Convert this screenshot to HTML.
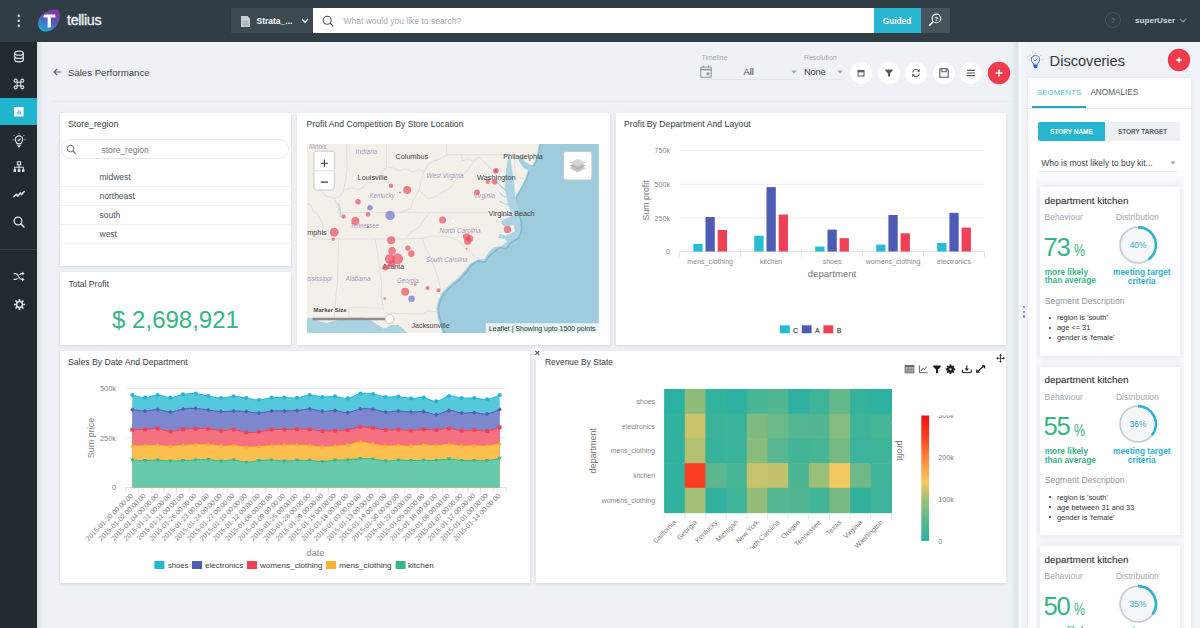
<!DOCTYPE html>
<html>
<head>
<meta charset="utf-8">
<title>Sales Performance</title>
<style>
*{box-sizing:border-box;margin:0;padding:0}
html,body{width:1200px;height:628px;overflow:hidden;background:#eef1f5;font-family:"Liberation Sans",sans-serif;color:#3a4247}
.abs{position:absolute}
#topbar{position:absolute;left:0;top:0;width:1200px;height:42px;background:#303d44}
#sidebar{position:absolute;left:0;top:42px;width:37px;height:586px;background:#212a2f}
#sidebar .act{position:absolute;left:0;top:55.5px;width:37px;height:27.5px;background:#20b4cf}
#sidebar .div{position:absolute;left:0;top:207px;width:37px;height:1px;background:#39444a}
#main{position:absolute;left:37px;top:42px;width:983px;height:586px;background:#eef1f5}
.card{position:absolute;background:#fff;box-shadow:0 1px 3px rgba(120,135,150,.22)}
.ctitle{position:absolute;left:8px;top:6px;font-size:8.6px;color:#333b40;white-space:nowrap;letter-spacing:.05px}
.t{position:absolute;white-space:nowrap}
.row{left:39.5px;font-size:8.5px;color:#4a5359}
.ln{left:0;width:231px;height:1px;background:#edf0f2}
#right{position:absolute;left:1020px;top:42px;width:180px;height:586px;background:#e8ecf1}
</style>
</head>
<body>
<div id="topbar">

  <svg class="abs" style="left:15px;top:11px" width="8" height="20" viewBox="0 0 8 20"><circle cx="3.8" cy="4.7" r="1.2" fill="#dde1e4"/><circle cx="3.8" cy="9.7" r="1.2" fill="#dde1e4"/><circle cx="3.8" cy="14.7" r="1.2" fill="#dde1e4"/></svg>
  <svg class="abs" style="left:36px;top:7px" width="26" height="27" viewBox="0 0 26 27">
    <defs><linearGradient id="lg" x1="0.75" y1="0" x2="0.2" y2="1"><stop offset="0" stop-color="#8a2fa6"/><stop offset=".45" stop-color="#5a55b8"/><stop offset="1" stop-color="#1fb3d6"/></linearGradient></defs>
    <path d="M20.5 2.6 C24.5 3.5 24.6 9.5 22.8 14.8 C20.8 20.6 14.6 25.2 8.8 24.4 C3.2 23.6 1.2 18.6 2.6 13.4 C4 8.2 8.8 4.6 13.6 3.2 C16.2 2.4 18.6 2.2 20.5 2.6Z" fill="url(#lg)"/>
    <path d="M7.6 9.2 Q7.6 7.6 9.2 7.6 H19.4 V10.6 H14.9 V19.4 Q14.9 20.4 13.9 20.4 H11.6 V10.6 H7.6Z" fill="#fff"/>
  </svg>
  <div class="t" style="left:67px;top:12.2px;font-size:14.2px;color:#f1f3f4;letter-spacing:-.3px;font-weight:400;-webkit-text-stroke:.35px #f1f3f4">tellius</div>
  <div class="abs" style="left:231px;top:8px;width:82px;height:25px;background:#3c4950"></div>
  <svg class="abs" style="left:241px;top:15.5px" width="9" height="11" viewBox="0 0 9 11"><path d="M0 0H6.5L9 2.5V11H0Z" fill="#c9ced2"/><path d="M1.6 5.2H7.4M1.6 7H7.4M1.6 8.8H7.4" stroke="#8d979d" stroke-width=".8"/></svg>
  <div class="t" style="left:256.5px;top:15.5px;font-size:8.5px;color:#fff;font-weight:bold">Strata_...</div>
  <svg class="abs" style="left:300.5px;top:18px" width="8" height="6" viewBox="0 0 8 6"><path d="M1 1L4 4.2L7 1" fill="none" stroke="#fff" stroke-width="1.3"/></svg>
  <div class="abs" style="left:312.5px;top:8px;width:561px;height:25px;background:#fff"></div>
  <svg class="abs" style="left:321px;top:14px" width="14" height="14" viewBox="0 0 14 14"><circle cx="6.2" cy="6.2" r="4" fill="none" stroke="#4d565b" stroke-width="1.1"/><path d="M9.1 9.1L12 12" stroke="#4d565b" stroke-width="1.2"/></svg>
  <div class="t" style="left:343.5px;top:15.5px;font-size:8.5px;color:#a4abb0">What would you like to search?</div>
  <div class="abs" style="left:873.5px;top:8px;width:47px;height:25px;background:#27b5d0"></div>
  <div class="t" style="left:873.5px;top:15.5px;width:47px;text-align:center;font-size:8.3px;color:#fff;font-weight:bold">Guided</div>
  <div class="abs" style="left:920.5px;top:8px;width:29px;height:25px;background:#47545b"></div>
  <svg class="abs" style="left:927px;top:12px" width="16" height="16" viewBox="0 0 16 16"><circle cx="9.4" cy="6.4" r="4.3" fill="none" stroke="#fff" stroke-width="1.1"/><path d="M6.3 9.5L2.2 13.6" stroke="#fff" stroke-width="1.5"/><text x="9.4" y="8.6" font-size="6" font-weight="bold" fill="#fff" text-anchor="middle" font-family="Liberation Sans">?</text></svg>
  <div class="abs" style="left:1105px;top:12px;width:16px;height:16px;border-radius:50%;border:1px solid #48555d"></div>
  <div class="t" style="left:1105px;top:16.5px;width:16px;text-align:center;font-size:6.5px;color:#7a878e">?</div>
  <div class="t" style="left:1135px;top:15.5px;font-size:8.1px;color:#d3d9dc;font-weight:bold">superUser</div>
  <svg class="abs" style="left:1178.5px;top:18px" width="8" height="6" viewBox="0 0 8 6"><path d="M1 1L4 4L7 1" fill="none" stroke="#87949b" stroke-width="1.1"/></svg>

</div>
<div id="sidebar">
  <div class="act"></div>
  <div class="div"></div>

  <!-- icons: coordinates relative to sidebar (top:42) -->
  <svg class="abs" style="left:13px;top:8px" width="12" height="13" viewBox="0 0 12 13"><g fill="none" stroke="#dbe0e3" stroke-width="1.25"><ellipse cx="6" cy="3.2" rx="4.3" ry="2"/><path d="M1.7 3.2V9.8C1.7 10.9 3.6 11.8 6 11.8S10.3 10.9 10.3 9.8V3.2"/><path d="M1.7 6.5C1.7 7.6 3.6 8.5 6 8.5S10.3 7.6 10.3 6.5"/></g></svg>
  <svg class="abs" style="left:13px;top:36px" width="12" height="12" viewBox="0 0 12 12"><g fill="none" stroke="#dbe0e3" stroke-width="1.2"><rect x="4.2" y="4.2" width="3.6" height="3.6"/><circle cx="2.7" cy="2.7" r="1.5"/><circle cx="9.3" cy="2.7" r="1.5"/><circle cx="2.7" cy="9.3" r="1.5"/><circle cx="9.3" cy="9.3" r="1.5"/></g></svg>
  <svg class="abs" style="left:14px;top:64.5px" width="10" height="10" viewBox="0 0 10 10"><rect x="0" y="0" width="9.6" height="9.6" rx=".6" fill="#fff"/><path d="M3.3 7.4V5.2M4.9 7.4V3.2M6.5 7.4V4.4" stroke="#20b4cf" stroke-width="1"/></svg>
  <svg class="abs" style="left:11px;top:90px" width="16" height="17" viewBox="0 0 16 17"><g fill="none" stroke="#dbe0e3" stroke-width="1.1"><path d="M5.9 11.6C5.9 10.4 4.3 9.6 4.3 7.6A3.7 3.7 0 0 1 11.7 7.6C11.7 9.6 10.1 10.4 10.1 11.6Z"/><path d="M6.2 13.2H9.8M6.8 14.6H9.2"/><path d="M6.6 7.6L7.7 8.7L9.6 6.6"/><path d="M8 1.2V2.4M2.8 3.2L3.7 4.1M13.2 3.2L12.3 4.1M1.4 7.8H2.6M14.6 7.8H13.4" stroke-width=".9"/></g></svg>
  <svg class="abs" style="left:13px;top:118.5px" width="12" height="12" viewBox="0 0 12 12"><g fill="none" stroke="#dbe0e3" stroke-width="1.1"><rect x="4.4" y=".8" width="3.2" height="3"/><path d="M6 3.8V6.2M1.8 8.4V6.2H10.2V8.4M6 6.2V8.4"/></g><g fill="#dbe0e3"><rect x=".5" y="8.2" width="2.6" height="2.8"/><rect x="4.7" y="8.2" width="2.6" height="2.8"/><rect x="8.9" y="8.2" width="2.6" height="2.8"/></g></svg>
  <svg class="abs" style="left:13px;top:147.5px" width="12" height="9" viewBox="0 0 12 9"><path d="M.8 6.8L3.4 4.2L4.8 6.2L7.4 2.8L8.6 4.6L11.2 1.6" fill="none" stroke="#dbe0e3" stroke-width="1.5" stroke-linejoin="round" stroke-linecap="round"/></svg>
  <svg class="abs" style="left:12px;top:173px" width="14" height="14" viewBox="0 0 14 14"><circle cx="6" cy="6" r="3.9" fill="none" stroke="#dbe0e3" stroke-width="1.3"/><path d="M8.9 8.9L12 12" stroke="#dbe0e3" stroke-width="1.5" stroke-linecap="round"/></svg>
  <svg class="abs" style="left:13px;top:229px" width="12" height="11" viewBox="0 0 12 11"><g fill="none" stroke="#dbe0e3" stroke-width="1.2"><path d="M.6 2.6H2.8C5.4 2.6 5.8 8.4 8.4 8.4H10"/><path d="M.6 8.4H2.8C3.6 8.4 4.2 7.8 4.6 7M6.6 4C7 3.2 7.6 2.6 8.4 2.6H10"/></g><path d="M9.2 .6L11.6 2.6L9.2 4.6ZM9.2 6.4L11.6 8.4L9.2 10.4Z" fill="#dbe0e3"/></svg>
  <svg class="abs" style="left:12.5px;top:255.5px" width="13" height="13" viewBox="0 0 13 13"><g transform="translate(6.5 6.5)"><circle r="2.9" fill="none" stroke="#dbe0e3" stroke-width="1.5"/><g stroke="#dbe0e3" stroke-width="1.7"><path d="M0 -3.4V-5.6M0 3.4V5.6M-3.4 0H-5.6M3.4 0H5.6M2.4 2.4L4 4M-2.4 2.4L-4 4M2.4 -2.4L4 -4M-2.4 -2.4L-4 -4"/></g></g></svg>

</div>
<div id="main">

  <!-- header: coordinates relative to main (left:37, top:42) -->
  <div class="abs" style="left:0;top:0;width:6px;height:586px;background:linear-gradient(90deg,rgba(200,208,216,.55),rgba(238,241,245,0))"></div>
  <svg class="abs" style="left:15.5px;top:26px" width="9" height="8" viewBox="0 0 9 8"><path d="M8.4 4H1.2M4.2 .9L1.1 4L4.2 7.1" fill="none" stroke="#555f66" stroke-width="1.1"/></svg>
  <div class="t" style="left:31px;top:24.5px;font-size:9.6px;color:#3c454b">Sales Performance</div>
  <div class="abs" style="left:14px;top:58.6px;width:960px;height:1px;background:#e8ebef"></div>

  <div class="t" style="left:664.5px;top:11.5px;font-size:6.9px;color:#a3abb1">Timeline</div>
  <svg class="abs" style="left:663px;top:23px" width="12" height="13" viewBox="0 0 12 13"><g fill="none" stroke="#8d969c" stroke-width="1.1"><rect x=".8" y="2" width="10.4" height="10.2" rx="1"/><path d="M.8 4.6H11.2" stroke-width="1.6"/><path d="M3.4 .6V2.6M8.6 .6V2.6"/></g><rect x="6.6" y="7.4" width="2.8" height="2.8" fill="#8d969c"/></svg>
  <div class="t" style="left:706.5px;top:23.8px;font-size:9.4px;color:#3c454b">All</div>
  <div class="abs" style="left:663px;top:37px;width:100px;height:1px;background:#e2e6ea"></div>
  <svg class="abs" style="left:753.5px;top:28px" width="6" height="4" viewBox="0 0 6 4"><path d="M.4 .4H5.6L3 3.6Z" fill="#9aa3a9"/></svg>
  <div class="t" style="left:767px;top:11.5px;font-size:6.9px;color:#a3abb1">Resolution</div>
  <div class="t" style="left:767px;top:23.8px;font-size:9.4px;color:#3c454b;letter-spacing:-.2px">None</div>
  <div class="abs" style="left:767px;top:37px;width:40px;height:1px;background:#e2e6ea"></div>
  <svg class="abs" style="left:799.5px;top:28px" width="6" height="4" viewBox="0 0 6 4"><path d="M.4 .4H5.6L3 3.6Z" fill="#9aa3a9"/></svg>
  <svg class="abs" style="left:812.3px;top:18.5px" width="24" height="24" viewBox="-12 -12 24 24"><circle r="11" fill="#fff"/><g fill="none" stroke="#525b61" stroke-width="1"><rect x="-3" y="-2.6" width="6" height="5.6"/><path d="M-3 -1.4H3" stroke-width="1.6"/></g></svg>
  <svg class="abs" style="left:839.6px;top:18.5px" width="24" height="24" viewBox="-12 -12 24 24"><circle r="11" fill="#fff"/><path d="M-3.6 -3.4H3.6V-2.2L1 .4V3.6H-1V.4L-3.6 -2.2Z" fill="#525b61"/></svg>
  <svg class="abs" style="left:867.0px;top:18.5px" width="24" height="24" viewBox="-12 -12 24 24"><circle r="11" fill="#fff"/><g fill="none" stroke="#525b61" stroke-width="1.1"><path d="M-3.4 -.6A3.5 3.5 0 0 1 2.8 -2.2"/><path d="M3.4 .6A3.5 3.5 0 0 1 -2.8 2.2"/></g><path d="M3.8 -4V-1.2H1ZM-3.8 4V1.2H-1Z" fill="#525b61"/></svg>
  <svg class="abs" style="left:894.6px;top:18.5px" width="24" height="24" viewBox="-12 -12 24 24"><circle r="11" fill="#fff"/><g fill="none" stroke="#525b61" stroke-width="1.1"><path d="M-4.2 -4.2H3L4.2 -3V4.2H-4.2Z"/><path d="M-2.2 -4.2V-1.2H2.2V-4.2"/></g></svg>
  <svg class="abs" style="left:922.0px;top:18.5px" width="24" height="24" viewBox="-12 -12 24 24"><circle r="11" fill="#fff"/><path d="M-4 -2.6H4M-4 0H4M-4 2.6H4" stroke="#525b61" stroke-width="1.1"/></svg>
  <svg class="abs" style="left:949.6px;top:18.5px" width="24" height="24" viewBox="-12 -12 24 24"><circle r="11.2" fill="#ef3b4e"/><path d="M-3.4 0H3.4M0 -3.4V3.4" stroke="#fff" stroke-width="1.6"/></svg>

</div>

<!-- cards in page coordinates -->
<div class="card" id="c1" style="left:60px;top:113px;width:231px;height:153px">
  <div class="ctitle" style="font-size:8.7px">Store_region</div>

  <div class="abs" style="left:.8px;top:26px;width:228.6px;height:20.4px;border:1px solid #e6e9ec;border-radius:10px"></div>
  <svg class="abs" style="left:6px;top:31px" width="11" height="11" viewBox="0 0 11 11"><circle cx="4.6" cy="4.6" r="3.3" fill="none" stroke="#69737a" stroke-width="1"/><path d="M7 7L9.8 9.8" stroke="#69737a" stroke-width="1.1"/></svg>
  <div class="t" style="left:41.5px;top:31.5px;font-size:8.5px;color:#727b81">store_region</div>
  <div class="t row" style="top:58.5px">midwest</div>
  <div class="abs ln" style="top:73px"></div>
  <div class="t row" style="top:77.5px">northeast</div>
  <div class="abs ln" style="top:92px"></div>
  <div class="t row" style="top:96.5px">south</div>
  <div class="abs ln" style="top:111px"></div>
  <div class="t row" style="top:115.5px">west</div>
  <div class="abs ln" style="top:130px"></div>

</div>
<div class="card" id="c2" style="left:60px;top:272px;width:231px;height:73px">
  <div class="ctitle" style="left:8.4px;font-size:8.45px;top:6.7px">Total Profit</div>

  <div class="t" style="left:0;top:34px;width:231px;text-align:center;font-size:24px;color:#37b487;letter-spacing:0;padding-left:0">$ 2,698,921</div>

</div>
<div class="card" id="c3" style="left:297px;top:113px;width:313px;height:232px">
  <div class="ctitle" style="left:9.6px;font-size:8.55px">Profit And Competition By Store Location</div>
<!--MAPSTART-->
<svg class="abs" style="left:10.399999999999977px;top:31.19999999999999px" width="291.8" height="189.2" viewBox="307.4 144.2 291.8 189.2" font-family="Liberation Sans">
<rect x="307.4" y="144.2" width="291.8" height="189.2" fill="#9eccdc"/>
<path d="M540.4 144.2 L537.9 156.7 L534.6 165.1 L529.6 170.1 L527.1 178.5 L522.9 186.8 L517.9 195.2 L515.5 200.0 L516.7 209.5 L521.5 220.7 L522.3 230.2 L519.1 238.2 L511.2 243.0 L506.4 249.3 L500.0 247.7 L493.7 252.5 L488.9 257.3 L485.7 262.1 L477.7 261.3 L471.4 265.3 L467.4 271.6 L460.2 279.6 L452.3 285.9 L444.3 293.9 L441.1 300.0 L438.6 308.8 L440.2 317.9 L442.9 327.1 L444.8 333.5 L407.7 333.5 L404.1 329.8 L398.6 325.3 L391.3 325.3 L387.0 328.0 L383.9 328.9 L378.4 325.3 L372.9 321.6 L363.8 317.9 L351.0 317.9 L341.8 319.8 L332.6 321.6 L327.1 323.4 L319.8 321.6 L314.3 317.9 L307.4 318.8 L307.4 144.2Z" fill="#aad4e3" stroke="#86b7cd" stroke-width="1.6" stroke-linejoin="round"/>
<path d="M539.4 144.2 L536.9 156.7 L533.6 164.6 L528.6 169.5 L526.0 178.2 L521.8 186.4 L516.8 194.8 L514.4 200.0 L515.2 209.5 L512.8 215.9 L502.4 220.7 L501.6 223.9 L504.8 226.3 L514.4 225.5 L515.2 231.8 L506.4 235.8 L500.0 234.2 L498.4 238.2 L504.8 239.0 L508.0 241.4 L501.6 246.2 L493.7 247.7 L488.9 252.5 L484.9 258.9 L477.7 259.7 L470.6 263.7 L465.8 270.0 L458.6 278.0 L450.7 284.4 L442.7 292.3 L438.8 300.0 L436.6 308.8 L438.2 317.9 L440.9 327.1 L442.8 333.5 L407.7 333.5 L404.1 329.8 L398.6 325.3 L391.3 325.3 L387.0 328.0 L383.9 328.9 L378.4 325.3 L372.9 321.6 L363.8 317.9 L351.0 317.9 L341.8 319.8 L332.6 321.6 L327.1 323.4 L319.8 321.6 L314.3 317.9 L307.4 318.8 L307.4 144.2Z" fill="#f3f0ea" stroke="#aad4e3" stroke-width="1.6" stroke-linejoin="round"/>
<path d="M539.4 144.2 L536.9 156.7 L533.6 164.6 L528.6 169.5 L526.0 178.2 L521.8 186.4 L516.8 194.8 L514.4 200.0 L515.2 209.5 L512.8 215.9 L502.4 220.7 L501.6 223.9 L504.8 226.3 L514.4 225.5 L515.2 231.8 L506.4 235.8 L500.0 234.2 L498.4 238.2 L504.8 239.0 L508.0 241.4 L501.6 246.2 L493.7 247.7 L488.9 252.5 L484.9 258.9 L477.7 259.7 L470.6 263.7 L465.8 270.0 L458.6 278.0 L450.7 284.4 L442.7 292.3 L438.8 300.0 L436.6 308.8 L438.2 317.9 L440.9 327.1 L442.8 333.5 L407.7 333.5 L404.1 329.8 L398.6 325.3 L391.3 325.3 L387.0 328.0 L383.9 328.9 L378.4 325.3 L372.9 321.6 L363.8 317.9 L351.0 317.9 L341.8 319.8 L332.6 321.6 L327.1 323.4 L319.8 321.6 L314.3 317.9 L307.4 318.8 L307.4 144.2Z" fill="#f3f0ea"/>
<path d="M307.4 333.5 L307.4 318.8 L314.3 317.9 L319.8 321.6 L327.1 323.4 L332.6 321.6 L341.8 319.8 L351.0 317.9 L363.8 317.9 L372.9 321.6 L378.4 325.3 L383.9 328.9 L387.0 328.0 L391.3 325.3 L398.6 325.3 L404.1 329.8 L407.7 333.5 L407.7 333.5Z" fill="#abd4e3"/>
<path d="M509.0 158.0 L507.5 165.0 L506.5 172.0 L506.0 180.0 L505.5 188.0 L507.0 196.0 L508.5 204.0 L510.5 210.0 L515.0 213.0 L519.0 210.0 L516.5 204.0 L515.5 196.0 L514.5 188.0 L514.0 180.0 L512.5 172.0 L511.5 165.0 L510.5 158.0Z" fill="#acd3e2" stroke="#acd3e2" stroke-width=".6" stroke-linejoin="round"/>
<path d="M510 192L504 189L499.5 184.5L497 182.5M511 199L504 196.5L500 193M512.5 205.5L505 204L500 201.5" fill="none" stroke="#acd3e2" stroke-width="1.2" stroke-linecap="round"/>
<path d="M530 171L523.5 167L520 161.5L519.5 157L522.5 157.5L525 162L529.5 165L533.5 166.5Z" fill="#a5cfe0" stroke="#a5cfe0" stroke-width="1"/>
<path d="M513 213.5L506 215.5L500 216" fill="none" stroke="#b3d7e5" stroke-width="1.2"/>
<path d="M338.8 203.5L340 208L341 213L340.6 217.5" fill="none" stroke="#b9d6e4" stroke-width="1.5"/>
<path d="M337.0 212.6 L514.0 212.4" fill="none" stroke="#dcd6de" stroke-width=".75" stroke-linejoin="round"/>
<path d="M307.4 239.2 L405.0 239.2 L422.0 238.6 L432.0 236.2 L447.0 236.5 L458.0 240.5 L467.0 248.5 L475.0 257.0 L484.5 261.0" fill="none" stroke="#dcd6de" stroke-width=".75" stroke-linejoin="round"/>
<path d="M339.0 239.2 L338.0 280.0 L335.5 305.0 L334.5 318.0" fill="none" stroke="#dcd6de" stroke-width=".75" stroke-linejoin="round"/>
<path d="M375.7 239.2 L379.0 262.0 L382.0 285.0 L381.5 296.0 L384.0 310.6" fill="none" stroke="#dcd6de" stroke-width=".75" stroke-linejoin="round"/>
<path d="M349.0 307.9 L384.0 308.3" fill="none" stroke="#dcd6de" stroke-width=".75" stroke-linejoin="round"/>
<path d="M349.0 307.9 L349.5 318.0" fill="none" stroke="#dcd6de" stroke-width=".75" stroke-linejoin="round"/>
<path d="M384.0 313.3 L424.0 314.3 L427.0 311.0 L438.0 312.0" fill="none" stroke="#dcd6de" stroke-width=".75" stroke-linejoin="round"/>
<path d="M422.4 238.6 L426.0 248.0 L431.0 258.0 L435.0 268.0 L439.0 280.0 L441.0 290.0" fill="none" stroke="#dcd6de" stroke-width=".75" stroke-linejoin="round"/>
<path d="M405.0 239.2 L412.0 232.0 L420.0 227.0 L425.0 219.0 L430.0 213.0" fill="none" stroke="#dcd6de" stroke-width=".75" stroke-linejoin="round"/>
<path d="M334.5 198.5 L338.0 205.0 L340.0 212.6" fill="none" stroke="#dcd6de" stroke-width=".75" stroke-linejoin="round"/>
<path d="M334.5 198.5 L341.0 196.0 L345.0 190.0 L352.0 188.0 L358.0 190.0 L364.0 187.0 L368.0 183.0 L373.0 182.7 L378.0 176.0 L383.0 172.0 L387.0 166.8 L393.0 168.0 L399.0 171.0 L406.0 169.0 L413.0 172.0 L419.0 170.0 L424.8 171.0 L428.0 165.0 L434.0 161.0 L439.0 160.0 L444.0 157.0 L447.0 155.0" fill="none" stroke="#dcd6de" stroke-width=".75" stroke-linejoin="round"/>
<path d="M347.0 144.2 L347.5 170.0 L346.0 180.0 L344.0 190.0" fill="none" stroke="#dcd6de" stroke-width=".75" stroke-linejoin="round"/>
<path d="M386.8 144.2 L387.0 166.8" fill="none" stroke="#dcd6de" stroke-width=".75" stroke-linejoin="round"/>
<path d="M447.0 144.2 L447.0 155.0 L514.6 155.0" fill="none" stroke="#dcd6de" stroke-width=".75" stroke-linejoin="round"/>
<path d="M424.8 171.0 L422.0 178.0 L420.5 184.0 L419.7 190.0 L424.0 195.0 L428.6 198.9 L436.0 197.0 L442.0 193.0 L448.0 190.0 L452.5 186.0 L457.0 179.0 L462.0 176.0 L466.8 171.8 L471.0 166.0 L476.0 160.0 L479.6 157.5 L483.0 160.0 L486.0 163.9" fill="none" stroke="#dcd6de" stroke-width=".75" stroke-linejoin="round"/>
<path d="M419.7 190.0 L414.0 199.0 L411.4 208.6 L405.0 211.0 L400.0 212.5" fill="none" stroke="#dcd6de" stroke-width=".75" stroke-linejoin="round"/>
<path d="M462.0 155.0 L463.0 161.0 L468.0 159.0 L473.0 161.0 L479.6 157.5" fill="none" stroke="#dcd6de" stroke-width=".75" stroke-linejoin="round"/>
<path d="M486.0 163.9 L490.0 168.0 L495.0 172.0 L497.0 178.0 L496.0 183.0" fill="none" stroke="#dcd6de" stroke-width=".75" stroke-linejoin="round"/>
<path d="M514.6 155.0 L515.5 170.0 L516.0 178.0 L524.0 178.5" fill="none" stroke="#dcd6de" stroke-width=".75" stroke-linejoin="round"/>
<path d="M307.4 204.0 L311.0 205.0 L314.0 212.0 L318.0 214.0 L321.0 220.0 L324.0 226.0 L322.0 232.0 L319.0 238.0" fill="none" stroke="#dcd6de" stroke-width=".75" stroke-linejoin="round"/>
<path d="M319.0 186.0 L322.0 192.0 L326.0 196.0 L330.0 197.0 L334.5 198.5" fill="none" stroke="#dcd6de" stroke-width=".75" stroke-linejoin="round"/>
<text x="309.5" y="149.3" font-size="6.4" font-style="italic" fill="#8d7bab" fill-opacity=".78" textLength="17.5" lengthAdjust="spacingAndGlyphs">Illinois</text>
<text x="356" y="153.8" font-size="6.4" font-style="italic" fill="#8d7bab" fill-opacity=".78" textLength="22" lengthAdjust="spacingAndGlyphs">Indiana</text>
<text x="396" y="159.2" font-size="7.3" fill="#444" textLength="32.5" lengthAdjust="spacingAndGlyphs">Columbus</text>
<text x="358" y="180" font-size="7.3" fill="#444" textLength="30" lengthAdjust="spacingAndGlyphs">Louisville</text>
<text x="427" y="177.8" font-size="6.4" font-style="italic" fill="#8d7bab" fill-opacity=".78" textLength="37" lengthAdjust="spacingAndGlyphs">West Virginia</text>
<text x="370" y="197.8" font-size="6.4" font-style="italic" fill="#8d7bab" fill-opacity=".78" textLength="25" lengthAdjust="spacingAndGlyphs">Kentucky</text>
<text x="351" y="227.8" font-size="6.4" font-style="italic" fill="#8d7bab" fill-opacity=".78" textLength="28" lengthAdjust="spacingAndGlyphs">Tennessee</text>
<text x="307.6" y="235.2" font-size="7.3" fill="#444" textLength="19.5" lengthAdjust="spacingAndGlyphs">mphis</text>
<text x="503.7" y="159.2" font-size="7.3" fill="#444" textLength="39.5" lengthAdjust="spacingAndGlyphs">Philadelphia</text>
<text x="477.5" y="180" font-size="7.3" fill="#444" textLength="38.5" lengthAdjust="spacingAndGlyphs">Washington</text>
<text x="474" y="198.3" font-size="6.4" font-style="italic" fill="#8d7bab" fill-opacity=".78" textLength="21.5" lengthAdjust="spacingAndGlyphs">Virginia</text>
<text x="489" y="215.8" font-size="7.3" fill="#444" textLength="46" lengthAdjust="spacingAndGlyphs">Virginia Beach</text>
<text x="440" y="233.5" font-size="6.4" font-style="italic" fill="#8d7bab" fill-opacity=".78" textLength="41" lengthAdjust="spacingAndGlyphs">North Carolina</text>
<text x="426.5" y="261.8" font-size="6.4" font-style="italic" fill="#8d7bab" fill-opacity=".78" textLength="41.5" lengthAdjust="spacingAndGlyphs">South Carolina</text>
<text x="383" y="269.7" font-size="7.3" fill="#444" textLength="21.5" lengthAdjust="spacingAndGlyphs">Atlanta</text>
<text x="307.6" y="281.3" font-size="6.4" font-style="italic" fill="#8d7bab" fill-opacity=".78" textLength="24.5" lengthAdjust="spacingAndGlyphs">ississippi</text>
<text x="346" y="281" font-size="6.4" font-style="italic" fill="#8d7bab" fill-opacity=".78" textLength="25" lengthAdjust="spacingAndGlyphs">Alabama</text>
<text x="397.5" y="283" font-size="6.4" font-style="italic" fill="#8d7bab" fill-opacity=".78" textLength="21.5" lengthAdjust="spacingAndGlyphs">Georgia</text>
<text x="412" y="328.3" font-size="7.3" fill="#444" textLength="38" lengthAdjust="spacingAndGlyphs">Jacksonville</text>
<circle cx="391.3" cy="186" r="2.2" fill="#ea4a5e" fill-opacity=".68"/>
<circle cx="407.6" cy="190.1" r="4" fill="#ea4a5e" fill-opacity=".68"/>
<circle cx="400.5" cy="192.7" r="1" fill="#ea4a5e" fill-opacity=".68"/>
<circle cx="358.4" cy="201.9" r="2.7" fill="#ea4a5e" fill-opacity=".68"/>
<circle cx="370.4" cy="208" r="2.7" fill="#6a6fc9" fill-opacity=".68"/>
<circle cx="368.4" cy="214.4" r="2.3" fill="#ea4a5e" fill-opacity=".68"/>
<circle cx="390.5" cy="215.6" r="4.7" fill="#6a6fc9" fill-opacity=".68"/>
<circle cx="344" cy="216.6" r="2.2" fill="#ea4a5e" fill-opacity=".68"/>
<circle cx="355.7" cy="221.1" r="4" fill="#ea4a5e" fill-opacity=".68"/>
<circle cx="368.2" cy="227.3" r="1" fill="#ea4a5e" fill-opacity=".68"/>
<circle cx="334.6" cy="232.4" r="4.4" fill="#ea4a5e" fill-opacity=".68"/>
<circle cx="333.6" cy="239.4" r="1.7" fill="#ea4a5e" fill-opacity=".68"/>
<circle cx="443" cy="220.2" r="3.5" fill="#ea4a5e" fill-opacity=".68"/>
<circle cx="391.6" cy="240.4" r="4" fill="#ea4a5e" fill-opacity=".68"/>
<circle cx="392.5" cy="251" r="3.8" fill="#ea4a5e" fill-opacity=".68"/>
<circle cx="390.3" cy="259.3" r="5" fill="#ea4a5e" fill-opacity=".68"/>
<circle cx="398" cy="259" r="5.5" fill="#ea4a5e" fill-opacity=".68"/>
<circle cx="392.2" cy="263.9" r="3.5" fill="#ea4a5e" fill-opacity=".68"/>
<circle cx="385.8" cy="267.6" r="3" fill="#ea4a5e" fill-opacity=".68"/>
<circle cx="408.3" cy="248.3" r="2.7" fill="#ea4a5e" fill-opacity=".68"/>
<circle cx="411.8" cy="253.8" r="3.3" fill="#ea4a5e" fill-opacity=".68"/>
<circle cx="405.5" cy="291.9" r="4" fill="#ea4a5e" fill-opacity=".68"/>
<circle cx="412" cy="299" r="3.2" fill="#6a6fc9" fill-opacity=".68"/>
<circle cx="427.9" cy="288.3" r="2" fill="#ea4a5e" fill-opacity=".68"/>
<circle cx="438.9" cy="290.5" r="2" fill="#ea4a5e" fill-opacity=".68"/>
<circle cx="415.6" cy="284.6" r="1.2" fill="#ea4a5e" fill-opacity=".68"/>
<circle cx="385.2" cy="298.7" r="1.2" fill="#ea4a5e" fill-opacity=".68"/>
<circle cx="496.3" cy="171" r="2.8" fill="#ea4a5e" fill-opacity=".68"/>
<circle cx="488.3" cy="181.9" r="2.2" fill="#ea4a5e" fill-opacity=".68"/>
<circle cx="495" cy="181.9" r="2.8" fill="#ea4a5e" fill-opacity=".68"/>
<circle cx="477.5" cy="192.5" r="2.8" fill="#ea4a5e" fill-opacity=".68"/>
<circle cx="507.9" cy="229.6" r="3.7" fill="#ea4a5e" fill-opacity=".68"/>
<circle cx="467" cy="237" r="3.6" fill="#ea4a5e" fill-opacity=".68"/>
<circle cx="470.2" cy="238.6" r="3.4" fill="#ea4a5e" fill-opacity=".68"/>
<circle cx="468" cy="241.4" r="3.6" fill="#ea4a5e" fill-opacity=".68"/>
<circle cx="467" cy="248.9" r="1" fill="#ea4a5e" fill-opacity=".68"/>
<circle cx="496.3" cy="171" r="1.2" fill="#d8324a" fill-opacity=".8"/>
<circle cx="453.6" cy="221.2" r="1" fill="#fff" fill-opacity=".9"/>
<circle cx="429.7" cy="294.7" r="1" fill="#fff" fill-opacity=".9"/>
<circle cx="413" cy="243" r="1" fill="#fff" fill-opacity=".9"/>
<circle cx="512" cy="227.5" r="1" fill="#fff" fill-opacity=".9"/>
<rect x="314.4" y="151.4" width="20.2" height="38.8" rx="2" fill="#fff" stroke="#c4c4c4" stroke-width=".9"/>
<path d="M315 171H334" stroke="#d8d8d8" stroke-width=".8"/>
<path d="M321.2 163.4H328.4M324.8 159.8V167M321.2 182.3H328.4" stroke="#3c3c3c" stroke-width="1.1"/>
<rect x="563.9" y="151.7" width="28.4" height="28.4" rx="2.5" fill="#fff" stroke="#c4c4c4" stroke-width=".9"/>
<g transform="translate(578.1 165.5)"><path d="M0 -1L8 3L0 7L-8 3Z" fill="#c6c6c6"/><path d="M0 -3.5L8 .5L0 4.5L-8 .5Z" fill="#b3b3b3"/><path d="M0 -6.5L8 -2.5L0 1.5L-8 -2.5Z" fill="#d4d4d4"/></g>
<text x="314" y="312.2" font-size="6" font-weight="bold" fill="#4a4a4a" textLength="33" lengthAdjust="spacingAndGlyphs" stroke="#f3f0ea" stroke-width=".9" paint-order="stroke">Marker Size</text>
<path d="M314 319.2H386" stroke="#8c8c8c" stroke-width="2.4" stroke-linecap="round"/>
<circle cx="390" cy="319.2" r="4.4" fill="#fff" stroke="#bdbdbd" stroke-width=".8"/>
<rect x="486.2" y="323.4" width="113.4" height="10" fill="#fff" fill-opacity=".72"/>
<text x="489.3" y="331" font-size="7" fill="#333" textLength="106.7" lengthAdjust="spacingAndGlyphs">Leaflet | Showing upto 1500 points</text>
</svg>
<!--MAPEND-->
</div>
<div class="card" id="c4" style="left:616px;top:113px;width:390px;height:232px">
  <div class="ctitle">Profit By Department And Layout</div>
<!--BARSTART-->
<svg class="abs" style="left:0;top:0" width="390" height="232" viewBox="616 113 390 232" font-family="Liberation Sans">
<path d="M679.7 150.3H984.5" stroke="#e7eaed" stroke-width=".9"/>
<text x="670" y="152.9" font-size="7.2" fill="#8a8a8a" text-anchor="end">750k</text>
<path d="M679.7 184.4H984.5" stroke="#e7eaed" stroke-width=".9"/>
<text x="670" y="187.0" font-size="7.2" fill="#8a8a8a" text-anchor="end">500k</text>
<path d="M679.7 218.0H984.5" stroke="#e7eaed" stroke-width=".9"/>
<text x="670" y="220.6" font-size="7.2" fill="#8a8a8a" text-anchor="end">250k</text>
<path d="M679.7 251.5H984.5" stroke="#d9dde0" stroke-width=".9"/>
<text x="670" y="254.1" font-size="7.2" fill="#8a8a8a" text-anchor="end">0</text>
<path d="M679.7 251.5V257" stroke="#d9dde0" stroke-width=".9"/>
<path d="M740.7 251.5V257" stroke="#d9dde0" stroke-width=".9"/>
<path d="M801.6 251.5V257" stroke="#d9dde0" stroke-width=".9"/>
<path d="M862.6 251.5V257" stroke="#d9dde0" stroke-width=".9"/>
<path d="M923.5 251.5V257" stroke="#d9dde0" stroke-width=".9"/>
<path d="M984.5 251.5V257" stroke="#d9dde0" stroke-width=".9"/>
<rect x="693.3" y="243.9" width="9.3" height="7.6" fill="#25bcd6"/>
<rect x="705.5" y="217" width="9.3" height="34.5" fill="#4f5cb3"/>
<rect x="717.7" y="230" width="9.3" height="21.5" fill="#ef4058"/>
<text x="710.2" y="263.6" font-size="7.1" fill="#8a8a8a" text-anchor="middle">mens_clothing</text>
<rect x="754.3" y="235.7" width="9.3" height="15.8" fill="#25bcd6"/>
<rect x="766.5" y="187.1" width="9.3" height="64.4" fill="#4f5cb3"/>
<rect x="778.7" y="214.5" width="9.3" height="37.0" fill="#ef4058"/>
<text x="771.1" y="263.6" font-size="7.1" fill="#8a8a8a" text-anchor="middle">kitchen</text>
<rect x="815.2" y="246.6" width="9.3" height="4.9" fill="#25bcd6"/>
<rect x="827.5" y="229.6" width="9.3" height="21.9" fill="#4f5cb3"/>
<rect x="839.6" y="238.2" width="9.3" height="13.3" fill="#ef4058"/>
<text x="832.1" y="263.6" font-size="7.1" fill="#8a8a8a" text-anchor="middle">shoes</text>
<rect x="876.2" y="244.6" width="9.3" height="6.9" fill="#25bcd6"/>
<rect x="888.4" y="215" width="9.3" height="36.5" fill="#4f5cb3"/>
<rect x="900.6" y="233.3" width="9.3" height="18.2" fill="#ef4058"/>
<text x="893.1" y="263.6" font-size="7.1" fill="#8a8a8a" text-anchor="middle">womens_clothing</text>
<rect x="937.2" y="242.9" width="9.3" height="8.6" fill="#25bcd6"/>
<rect x="949.4" y="212.8" width="9.3" height="38.7" fill="#4f5cb3"/>
<rect x="961.6" y="227.6" width="9.3" height="23.9" fill="#ef4058"/>
<text x="954.0" y="263.6" font-size="7.1" fill="#8a8a8a" text-anchor="middle">electronics</text>
<text x="832" y="277" font-size="9.6" fill="#757575" text-anchor="middle">department</text>
<text transform="translate(648.6 200.4) rotate(-90)" font-size="8.8" fill="#757575" text-anchor="middle">Sum profit</text>
<rect x="780" y="325.3" width="9.8" height="8" fill="#25bcd6"/>
<text x="793.1" y="332.7" font-size="7" fill="#555" stroke="#555" stroke-width=".25">C</text>
<rect x="801.8" y="325.3" width="9.8" height="8" fill="#4f5cb3"/>
<text x="815" y="332.7" font-size="7" fill="#555" stroke="#555" stroke-width=".25">A</text>
<rect x="823.4" y="325.3" width="9.8" height="8" fill="#ef4058"/>
<text x="836.8" y="332.7" font-size="7" fill="#555" stroke="#555" stroke-width=".25">B</text>
</svg>
<!--BAREND-->
</div>
<div class="card" id="c5" style="left:60px;top:351px;width:470px;height:232px">
  <div class="ctitle" style="font-size:8.55px">Sales By Date And Department</div>
<!--AREASTART-->
<svg class="abs" style="left:0;top:0" width="470" height="232" viewBox="60 351 470 232" font-family="Liberation Sans">
<path d="M126 388.4H506" stroke="#e7eaed" stroke-width=".9"/>
<text x="116" y="391.09999999999997" font-size="7.4" fill="#858585" text-anchor="end">500k</text>
<path d="M126 438.4H506" stroke="#e7eaed" stroke-width=".9"/>
<text x="116" y="441.09999999999997" font-size="7.4" fill="#858585" text-anchor="end">250k</text>
<path d="M126 487.6H506" stroke="#d9dde0" stroke-width=".9"/>
<text x="116" y="490.3" font-size="7.4" fill="#858585" text-anchor="end">0</text>
<path d="M126.0 487.6V493" stroke="#d9dde0" stroke-width=".8"/>
<path d="M138.7 487.6V493" stroke="#d9dde0" stroke-width=".8"/>
<path d="M151.3 487.6V493" stroke="#d9dde0" stroke-width=".8"/>
<path d="M164.0 487.6V493" stroke="#d9dde0" stroke-width=".8"/>
<path d="M176.7 487.6V493" stroke="#d9dde0" stroke-width=".8"/>
<path d="M189.3 487.6V493" stroke="#d9dde0" stroke-width=".8"/>
<path d="M202.0 487.6V493" stroke="#d9dde0" stroke-width=".8"/>
<path d="M214.7 487.6V493" stroke="#d9dde0" stroke-width=".8"/>
<path d="M227.3 487.6V493" stroke="#d9dde0" stroke-width=".8"/>
<path d="M240.0 487.6V493" stroke="#d9dde0" stroke-width=".8"/>
<path d="M252.7 487.6V493" stroke="#d9dde0" stroke-width=".8"/>
<path d="M265.3 487.6V493" stroke="#d9dde0" stroke-width=".8"/>
<path d="M278.0 487.6V493" stroke="#d9dde0" stroke-width=".8"/>
<path d="M290.7 487.6V493" stroke="#d9dde0" stroke-width=".8"/>
<path d="M303.3 487.6V493" stroke="#d9dde0" stroke-width=".8"/>
<path d="M316.0 487.6V493" stroke="#d9dde0" stroke-width=".8"/>
<path d="M328.7 487.6V493" stroke="#d9dde0" stroke-width=".8"/>
<path d="M341.3 487.6V493" stroke="#d9dde0" stroke-width=".8"/>
<path d="M354.0 487.6V493" stroke="#d9dde0" stroke-width=".8"/>
<path d="M366.7 487.6V493" stroke="#d9dde0" stroke-width=".8"/>
<path d="M379.3 487.6V493" stroke="#d9dde0" stroke-width=".8"/>
<path d="M392.0 487.6V493" stroke="#d9dde0" stroke-width=".8"/>
<path d="M404.7 487.6V493" stroke="#d9dde0" stroke-width=".8"/>
<path d="M417.3 487.6V493" stroke="#d9dde0" stroke-width=".8"/>
<path d="M430.0 487.6V493" stroke="#d9dde0" stroke-width=".8"/>
<path d="M442.7 487.6V493" stroke="#d9dde0" stroke-width=".8"/>
<path d="M455.3 487.6V493" stroke="#d9dde0" stroke-width=".8"/>
<path d="M468.0 487.6V493" stroke="#d9dde0" stroke-width=".8"/>
<path d="M480.7 487.6V493" stroke="#d9dde0" stroke-width=".8"/>
<path d="M493.3 487.6V493" stroke="#d9dde0" stroke-width=".8"/>
<path d="M506.0 487.6V493" stroke="#d9dde0" stroke-width=".8"/>
<path d="M132.3 395.0C134.6 395.5 140.4 397.6 145.0 397.6C149.6 397.6 153.1 395.0 157.7 395.0C162.2 395.0 165.8 397.7 170.3 397.6C174.9 397.5 178.4 395.1 183.0 394.4C187.6 393.7 191.1 393.3 195.7 393.6C200.2 393.9 203.8 395.2 208.3 396.0C212.9 396.8 216.4 397.9 221.0 398.0C225.6 398.1 229.1 396.4 233.7 396.4C238.2 396.4 241.8 397.4 246.3 398.0C250.9 398.6 254.4 400.1 259.0 400.0C263.6 399.9 267.1 398.0 271.7 397.6C276.2 397.2 279.8 397.6 284.3 397.6C288.9 397.6 292.4 398.3 297.0 397.8C301.6 397.3 305.1 395.1 309.7 395.0C314.2 394.9 317.8 396.7 322.3 397.0C326.9 397.3 330.4 396.1 335.0 396.4C339.6 396.7 343.1 398.9 347.7 398.4C352.2 397.9 355.8 394.4 360.3 393.6C364.9 392.8 368.4 393.4 373.0 394.0C377.6 394.6 381.1 396.5 385.7 397.0C390.2 397.5 393.8 396.3 398.3 396.6C402.9 396.9 406.4 398.2 411.0 398.4C415.6 398.6 419.1 397.1 423.7 397.6C428.2 398.1 431.8 401.7 436.3 401.4C440.9 401.1 444.4 396.6 449.0 396.0C453.6 395.4 457.1 397.6 461.7 398.0C466.2 398.4 469.8 397.7 474.3 398.0C478.9 398.3 482.4 399.9 487.0 399.4C491.6 398.9 497.4 395.8 499.7 395.0L499.7 487.6L132.3 487.6Z" fill="#54c8dd"/>
<path d="M132.3 409.6C134.6 409.9 140.4 411.0 145.0 411.0C149.6 411.0 153.1 409.4 157.7 409.6C162.2 409.8 165.8 412.1 170.3 412.0C174.9 411.9 178.4 409.6 183.0 409.0C187.6 408.4 191.1 408.2 195.7 408.4C200.2 408.6 203.8 409.4 208.3 410.0C212.9 410.6 216.4 411.4 221.0 411.6C225.6 411.8 229.1 411.0 233.7 411.0C238.2 411.0 241.8 411.2 246.3 411.6C250.9 412.0 254.4 413.1 259.0 413.0C263.6 412.9 267.1 411.4 271.7 411.0C276.2 410.6 279.8 411.1 284.3 411.0C288.9 410.9 292.4 411.0 297.0 410.6C301.6 410.2 305.1 408.9 309.7 409.0C314.2 409.1 317.8 411.1 322.3 411.4C326.9 411.7 330.4 410.4 335.0 410.6C339.6 410.8 343.1 412.9 347.7 412.6C352.2 412.3 355.8 409.6 360.3 409.0C364.9 408.4 368.4 408.7 373.0 409.2C377.6 409.7 381.1 411.7 385.7 412.0C390.2 412.3 393.8 411.0 398.3 411.0C402.9 411.0 406.4 411.9 411.0 412.0C415.6 412.1 419.1 411.1 423.7 411.6C428.2 412.1 431.8 414.8 436.3 414.6C440.9 414.4 444.4 410.9 449.0 410.6C453.6 410.3 457.1 412.6 461.7 413.0C466.2 413.4 469.8 412.4 474.3 412.6C478.9 412.8 482.4 414.6 487.0 414.0C491.6 413.4 497.4 410.2 499.7 409.4L499.7 487.6L132.3 487.6Z" fill="#7c87cd"/>
<path d="M132.3 429.6C134.6 429.6 140.4 429.8 145.0 429.6C149.6 429.4 153.1 428.2 157.7 428.6C162.2 429.0 165.8 431.5 170.3 431.6C174.9 431.7 178.4 429.7 183.0 429.2C187.6 428.7 191.1 428.9 195.7 428.8C200.2 428.7 203.8 428.3 208.3 428.6C212.9 428.9 216.4 430.4 221.0 430.6C225.6 430.8 229.1 429.3 233.7 429.6C238.2 429.9 241.8 432.0 246.3 432.4C250.9 432.8 254.4 432.5 259.0 432.0C263.6 431.5 267.1 429.8 271.7 429.4C276.2 429.0 279.8 429.7 284.3 429.6C288.9 429.5 292.4 429.0 297.0 429.0C301.6 429.0 305.1 429.0 309.7 429.4C314.2 429.8 317.8 430.8 322.3 431.0C326.9 431.2 330.4 430.8 335.0 430.6C339.6 430.4 343.1 430.6 347.7 430.0C352.2 429.4 355.8 427.4 360.3 427.0C364.9 426.6 368.4 427.5 373.0 428.0C377.6 428.5 381.1 429.7 385.7 430.0C390.2 430.3 393.8 429.5 398.3 429.6C402.9 429.7 406.4 430.4 411.0 430.4C415.6 430.4 419.1 429.5 423.7 429.4C428.2 429.3 431.8 430.2 436.3 430.0C440.9 429.8 444.4 428.3 449.0 428.4C453.6 428.5 457.1 430.3 461.7 430.6C466.2 430.9 469.8 429.9 474.3 430.0C478.9 430.1 482.4 431.5 487.0 431.0C491.6 430.5 497.4 428.0 499.7 427.4L499.7 487.6L132.3 487.6Z" fill="#f6717f"/>
<path d="M132.3 446.0C134.6 445.9 140.4 445.7 145.0 445.6C149.6 445.5 153.1 445.1 157.7 445.2C162.2 445.3 165.8 446.4 170.3 446.4C174.9 446.4 178.4 445.5 183.0 445.2C187.6 444.9 191.1 444.9 195.7 444.8C200.2 444.7 203.8 444.2 208.3 444.4C212.9 444.6 216.4 445.8 221.0 446.0C225.6 446.2 229.1 445.4 233.7 445.6C238.2 445.8 241.8 446.8 246.3 447.0C250.9 447.2 254.4 446.9 259.0 446.6C263.6 446.3 267.1 445.9 271.7 445.6C276.2 445.3 279.8 445.3 284.3 445.2C288.9 445.1 292.4 444.9 297.0 445.0C301.6 445.1 305.1 445.2 309.7 445.6C314.2 446.0 317.8 446.9 322.3 447.0C326.9 447.1 330.4 446.4 335.0 446.0C339.6 445.6 343.1 445.7 347.7 445.0C352.2 444.3 355.8 442.2 360.3 442.0C364.9 441.8 368.4 443.3 373.0 444.0C377.6 444.7 381.1 445.7 385.7 446.0C390.2 446.3 393.8 445.4 398.3 445.4C402.9 445.4 406.4 446.1 411.0 446.0C415.6 445.9 419.1 445.1 423.7 445.0C428.2 444.9 431.8 445.7 436.3 445.6C440.9 445.5 444.4 444.3 449.0 444.4C453.6 444.5 457.1 445.8 461.7 446.0C466.2 446.2 469.8 445.6 474.3 445.6C478.9 445.6 482.4 446.4 487.0 446.0C491.6 445.6 497.4 444.0 499.7 443.6L499.7 487.6L132.3 487.6Z" fill="#fdc04e"/>
<path d="M132.3 460.0C134.6 460.1 140.4 460.6 145.0 460.6C149.6 460.6 153.1 459.9 157.7 460.0C162.2 460.1 165.8 460.9 170.3 461.0C174.9 461.1 178.4 460.8 183.0 460.6C187.6 460.4 191.1 460.2 195.7 460.0C200.2 459.8 203.8 459.4 208.3 459.6C212.9 459.8 216.4 460.9 221.0 461.0C225.6 461.1 229.1 459.7 233.7 460.0C238.2 460.3 241.8 462.3 246.3 462.4C250.9 462.5 254.4 461.0 259.0 460.6C263.6 460.2 267.1 459.9 271.7 460.0C276.2 460.1 279.8 460.9 284.3 461.0C288.9 461.1 292.4 460.5 297.0 460.4C301.6 460.3 305.1 460.2 309.7 460.4C314.2 460.6 317.8 461.7 322.3 461.6C326.9 461.5 330.4 460.3 335.0 460.0C339.6 459.7 343.1 460.3 347.7 460.0C352.2 459.7 355.8 458.8 360.3 458.6C364.9 458.4 368.4 458.6 373.0 459.0C377.6 459.4 381.1 460.8 385.7 461.0C390.2 461.2 393.8 460.1 398.3 460.0C402.9 459.9 406.4 460.5 411.0 460.6C415.6 460.7 419.1 460.4 423.7 460.4C428.2 460.4 431.8 460.7 436.3 460.4C440.9 460.1 444.4 459.0 449.0 459.0C453.6 459.0 457.1 460.3 461.7 460.6C466.2 460.9 469.8 460.6 474.3 460.6C478.9 460.6 482.4 461.0 487.0 460.6C491.6 460.2 497.4 458.8 499.7 458.4L499.7 487.6L132.3 487.6Z" fill="#67caaa"/>
<path d="M132.3 395.0C134.6 395.5 140.4 397.6 145.0 397.6C149.6 397.6 153.1 395.0 157.7 395.0C162.2 395.0 165.8 397.7 170.3 397.6C174.9 397.5 178.4 395.1 183.0 394.4C187.6 393.7 191.1 393.3 195.7 393.6C200.2 393.9 203.8 395.2 208.3 396.0C212.9 396.8 216.4 397.9 221.0 398.0C225.6 398.1 229.1 396.4 233.7 396.4C238.2 396.4 241.8 397.4 246.3 398.0C250.9 398.6 254.4 400.1 259.0 400.0C263.6 399.9 267.1 398.0 271.7 397.6C276.2 397.2 279.8 397.6 284.3 397.6C288.9 397.6 292.4 398.3 297.0 397.8C301.6 397.3 305.1 395.1 309.7 395.0C314.2 394.9 317.8 396.7 322.3 397.0C326.9 397.3 330.4 396.1 335.0 396.4C339.6 396.7 343.1 398.9 347.7 398.4C352.2 397.9 355.8 394.4 360.3 393.6C364.9 392.8 368.4 393.4 373.0 394.0C377.6 394.6 381.1 396.5 385.7 397.0C390.2 397.5 393.8 396.3 398.3 396.6C402.9 396.9 406.4 398.2 411.0 398.4C415.6 398.6 419.1 397.1 423.7 397.6C428.2 398.1 431.8 401.7 436.3 401.4C440.9 401.1 444.4 396.6 449.0 396.0C453.6 395.4 457.1 397.6 461.7 398.0C466.2 398.4 469.8 397.7 474.3 398.0C478.9 398.3 482.4 399.9 487.0 399.4C491.6 398.9 497.4 395.8 499.7 395.0" fill="none" stroke="#27b6d2" stroke-width="1"/>
<circle cx="132.3" cy="395.0" r="2.1" fill="#27b6d2"/>
<circle cx="145.0" cy="397.6" r="2.1" fill="#27b6d2"/>
<circle cx="157.7" cy="395.0" r="2.1" fill="#27b6d2"/>
<circle cx="170.3" cy="397.6" r="2.1" fill="#27b6d2"/>
<circle cx="183.0" cy="394.4" r="2.1" fill="#27b6d2"/>
<circle cx="195.7" cy="393.6" r="2.1" fill="#27b6d2"/>
<circle cx="208.3" cy="396.0" r="2.1" fill="#27b6d2"/>
<circle cx="221.0" cy="398.0" r="2.1" fill="#27b6d2"/>
<circle cx="233.7" cy="396.4" r="2.1" fill="#27b6d2"/>
<circle cx="246.3" cy="398.0" r="2.1" fill="#27b6d2"/>
<circle cx="259.0" cy="400.0" r="2.1" fill="#27b6d2"/>
<circle cx="271.7" cy="397.6" r="2.1" fill="#27b6d2"/>
<circle cx="284.3" cy="397.6" r="2.1" fill="#27b6d2"/>
<circle cx="297.0" cy="397.8" r="2.1" fill="#27b6d2"/>
<circle cx="309.7" cy="395.0" r="2.1" fill="#27b6d2"/>
<circle cx="322.3" cy="397.0" r="2.1" fill="#27b6d2"/>
<circle cx="335.0" cy="396.4" r="2.1" fill="#27b6d2"/>
<circle cx="347.7" cy="398.4" r="2.1" fill="#27b6d2"/>
<circle cx="360.3" cy="393.6" r="2.1" fill="#27b6d2"/>
<circle cx="373.0" cy="394.0" r="2.1" fill="#27b6d2"/>
<circle cx="385.7" cy="397.0" r="2.1" fill="#27b6d2"/>
<circle cx="398.3" cy="396.6" r="2.1" fill="#27b6d2"/>
<circle cx="411.0" cy="398.4" r="2.1" fill="#27b6d2"/>
<circle cx="423.7" cy="397.6" r="2.1" fill="#27b6d2"/>
<circle cx="436.3" cy="401.4" r="2.1" fill="#27b6d2"/>
<circle cx="449.0" cy="396.0" r="2.1" fill="#27b6d2"/>
<circle cx="461.7" cy="398.0" r="2.1" fill="#27b6d2"/>
<circle cx="474.3" cy="398.0" r="2.1" fill="#27b6d2"/>
<circle cx="487.0" cy="399.4" r="2.1" fill="#27b6d2"/>
<circle cx="499.7" cy="395.0" r="2.1" fill="#27b6d2"/>
<path d="M132.3 409.6C134.6 409.9 140.4 411.0 145.0 411.0C149.6 411.0 153.1 409.4 157.7 409.6C162.2 409.8 165.8 412.1 170.3 412.0C174.9 411.9 178.4 409.6 183.0 409.0C187.6 408.4 191.1 408.2 195.7 408.4C200.2 408.6 203.8 409.4 208.3 410.0C212.9 410.6 216.4 411.4 221.0 411.6C225.6 411.8 229.1 411.0 233.7 411.0C238.2 411.0 241.8 411.2 246.3 411.6C250.9 412.0 254.4 413.1 259.0 413.0C263.6 412.9 267.1 411.4 271.7 411.0C276.2 410.6 279.8 411.1 284.3 411.0C288.9 410.9 292.4 411.0 297.0 410.6C301.6 410.2 305.1 408.9 309.7 409.0C314.2 409.1 317.8 411.1 322.3 411.4C326.9 411.7 330.4 410.4 335.0 410.6C339.6 410.8 343.1 412.9 347.7 412.6C352.2 412.3 355.8 409.6 360.3 409.0C364.9 408.4 368.4 408.7 373.0 409.2C377.6 409.7 381.1 411.7 385.7 412.0C390.2 412.3 393.8 411.0 398.3 411.0C402.9 411.0 406.4 411.9 411.0 412.0C415.6 412.1 419.1 411.1 423.7 411.6C428.2 412.1 431.8 414.8 436.3 414.6C440.9 414.4 444.4 410.9 449.0 410.6C453.6 410.3 457.1 412.6 461.7 413.0C466.2 413.4 469.8 412.4 474.3 412.6C478.9 412.8 482.4 414.6 487.0 414.0C491.6 413.4 497.4 410.2 499.7 409.4" fill="none" stroke="#4f5cb3" stroke-width="1"/>
<path d="M132.3 407.3L134.3 409.6L132.3 411.9L130.3 409.6Z" fill="#4f5cb3"/>
<path d="M145.0 408.7L147.0 411.0L145.0 413.3L143.0 411.0Z" fill="#4f5cb3"/>
<path d="M157.7 407.3L159.7 409.6L157.7 411.9L155.7 409.6Z" fill="#4f5cb3"/>
<path d="M170.3 409.7L172.3 412.0L170.3 414.3L168.3 412.0Z" fill="#4f5cb3"/>
<path d="M183.0 406.7L185.0 409.0L183.0 411.3L181.0 409.0Z" fill="#4f5cb3"/>
<path d="M195.7 406.1L197.7 408.4L195.7 410.7L193.7 408.4Z" fill="#4f5cb3"/>
<path d="M208.3 407.7L210.3 410.0L208.3 412.3L206.3 410.0Z" fill="#4f5cb3"/>
<path d="M221.0 409.3L223.0 411.6L221.0 413.9L219.0 411.6Z" fill="#4f5cb3"/>
<path d="M233.7 408.7L235.7 411.0L233.7 413.3L231.7 411.0Z" fill="#4f5cb3"/>
<path d="M246.3 409.3L248.3 411.6L246.3 413.9L244.3 411.6Z" fill="#4f5cb3"/>
<path d="M259.0 410.7L261.0 413.0L259.0 415.3L257.0 413.0Z" fill="#4f5cb3"/>
<path d="M271.7 408.7L273.7 411.0L271.7 413.3L269.7 411.0Z" fill="#4f5cb3"/>
<path d="M284.3 408.7L286.3 411.0L284.3 413.3L282.3 411.0Z" fill="#4f5cb3"/>
<path d="M297.0 408.3L299.0 410.6L297.0 412.9L295.0 410.6Z" fill="#4f5cb3"/>
<path d="M309.7 406.7L311.7 409.0L309.7 411.3L307.7 409.0Z" fill="#4f5cb3"/>
<path d="M322.3 409.1L324.3 411.4L322.3 413.7L320.3 411.4Z" fill="#4f5cb3"/>
<path d="M335.0 408.3L337.0 410.6L335.0 412.9L333.0 410.6Z" fill="#4f5cb3"/>
<path d="M347.7 410.3L349.7 412.6L347.7 414.9L345.7 412.6Z" fill="#4f5cb3"/>
<path d="M360.3 406.7L362.3 409.0L360.3 411.3L358.3 409.0Z" fill="#4f5cb3"/>
<path d="M373.0 406.9L375.0 409.2L373.0 411.5L371.0 409.2Z" fill="#4f5cb3"/>
<path d="M385.7 409.7L387.7 412.0L385.7 414.3L383.7 412.0Z" fill="#4f5cb3"/>
<path d="M398.3 408.7L400.3 411.0L398.3 413.3L396.3 411.0Z" fill="#4f5cb3"/>
<path d="M411.0 409.7L413.0 412.0L411.0 414.3L409.0 412.0Z" fill="#4f5cb3"/>
<path d="M423.7 409.3L425.7 411.6L423.7 413.9L421.7 411.6Z" fill="#4f5cb3"/>
<path d="M436.3 412.3L438.3 414.6L436.3 416.9L434.3 414.6Z" fill="#4f5cb3"/>
<path d="M449.0 408.3L451.0 410.6L449.0 412.9L447.0 410.6Z" fill="#4f5cb3"/>
<path d="M461.7 410.7L463.7 413.0L461.7 415.3L459.7 413.0Z" fill="#4f5cb3"/>
<path d="M474.3 410.3L476.3 412.6L474.3 414.9L472.3 412.6Z" fill="#4f5cb3"/>
<path d="M487.0 411.7L489.0 414.0L487.0 416.3L485.0 414.0Z" fill="#4f5cb3"/>
<path d="M499.7 407.1L501.7 409.4L499.7 411.7L497.7 409.4Z" fill="#4f5cb3"/>
<path d="M132.3 429.6C134.6 429.6 140.4 429.8 145.0 429.6C149.6 429.4 153.1 428.2 157.7 428.6C162.2 429.0 165.8 431.5 170.3 431.6C174.9 431.7 178.4 429.7 183.0 429.2C187.6 428.7 191.1 428.9 195.7 428.8C200.2 428.7 203.8 428.3 208.3 428.6C212.9 428.9 216.4 430.4 221.0 430.6C225.6 430.8 229.1 429.3 233.7 429.6C238.2 429.9 241.8 432.0 246.3 432.4C250.9 432.8 254.4 432.5 259.0 432.0C263.6 431.5 267.1 429.8 271.7 429.4C276.2 429.0 279.8 429.7 284.3 429.6C288.9 429.5 292.4 429.0 297.0 429.0C301.6 429.0 305.1 429.0 309.7 429.4C314.2 429.8 317.8 430.8 322.3 431.0C326.9 431.2 330.4 430.8 335.0 430.6C339.6 430.4 343.1 430.6 347.7 430.0C352.2 429.4 355.8 427.4 360.3 427.0C364.9 426.6 368.4 427.5 373.0 428.0C377.6 428.5 381.1 429.7 385.7 430.0C390.2 430.3 393.8 429.5 398.3 429.6C402.9 429.7 406.4 430.4 411.0 430.4C415.6 430.4 419.1 429.5 423.7 429.4C428.2 429.3 431.8 430.2 436.3 430.0C440.9 429.8 444.4 428.3 449.0 428.4C453.6 428.5 457.1 430.3 461.7 430.6C466.2 430.9 469.8 429.9 474.3 430.0C478.9 430.1 482.4 431.5 487.0 431.0C491.6 430.5 497.4 428.0 499.7 427.4" fill="none" stroke="#ee4159" stroke-width="1"/>
<rect x="130.4" y="427.7" width="3.8" height="3.8" fill="#ee4159"/>
<rect x="143.1" y="427.7" width="3.8" height="3.8" fill="#ee4159"/>
<rect x="155.8" y="426.7" width="3.8" height="3.8" fill="#ee4159"/>
<rect x="168.4" y="429.7" width="3.8" height="3.8" fill="#ee4159"/>
<rect x="181.1" y="427.3" width="3.8" height="3.8" fill="#ee4159"/>
<rect x="193.8" y="426.9" width="3.8" height="3.8" fill="#ee4159"/>
<rect x="206.4" y="426.7" width="3.8" height="3.8" fill="#ee4159"/>
<rect x="219.1" y="428.7" width="3.8" height="3.8" fill="#ee4159"/>
<rect x="231.8" y="427.7" width="3.8" height="3.8" fill="#ee4159"/>
<rect x="244.4" y="430.5" width="3.8" height="3.8" fill="#ee4159"/>
<rect x="257.1" y="430.1" width="3.8" height="3.8" fill="#ee4159"/>
<rect x="269.8" y="427.5" width="3.8" height="3.8" fill="#ee4159"/>
<rect x="282.4" y="427.7" width="3.8" height="3.8" fill="#ee4159"/>
<rect x="295.1" y="427.1" width="3.8" height="3.8" fill="#ee4159"/>
<rect x="307.8" y="427.5" width="3.8" height="3.8" fill="#ee4159"/>
<rect x="320.4" y="429.1" width="3.8" height="3.8" fill="#ee4159"/>
<rect x="333.1" y="428.7" width="3.8" height="3.8" fill="#ee4159"/>
<rect x="345.8" y="428.1" width="3.8" height="3.8" fill="#ee4159"/>
<rect x="358.4" y="425.1" width="3.8" height="3.8" fill="#ee4159"/>
<rect x="371.1" y="426.1" width="3.8" height="3.8" fill="#ee4159"/>
<rect x="383.8" y="428.1" width="3.8" height="3.8" fill="#ee4159"/>
<rect x="396.4" y="427.7" width="3.8" height="3.8" fill="#ee4159"/>
<rect x="409.1" y="428.5" width="3.8" height="3.8" fill="#ee4159"/>
<rect x="421.8" y="427.5" width="3.8" height="3.8" fill="#ee4159"/>
<rect x="434.4" y="428.1" width="3.8" height="3.8" fill="#ee4159"/>
<rect x="447.1" y="426.5" width="3.8" height="3.8" fill="#ee4159"/>
<rect x="459.8" y="428.7" width="3.8" height="3.8" fill="#ee4159"/>
<rect x="472.4" y="428.1" width="3.8" height="3.8" fill="#ee4159"/>
<rect x="485.1" y="429.1" width="3.8" height="3.8" fill="#ee4159"/>
<rect x="497.8" y="425.5" width="3.8" height="3.8" fill="#ee4159"/>
<path d="M132.3 446.0C134.6 445.9 140.4 445.7 145.0 445.6C149.6 445.5 153.1 445.1 157.7 445.2C162.2 445.3 165.8 446.4 170.3 446.4C174.9 446.4 178.4 445.5 183.0 445.2C187.6 444.9 191.1 444.9 195.7 444.8C200.2 444.7 203.8 444.2 208.3 444.4C212.9 444.6 216.4 445.8 221.0 446.0C225.6 446.2 229.1 445.4 233.7 445.6C238.2 445.8 241.8 446.8 246.3 447.0C250.9 447.2 254.4 446.9 259.0 446.6C263.6 446.3 267.1 445.9 271.7 445.6C276.2 445.3 279.8 445.3 284.3 445.2C288.9 445.1 292.4 444.9 297.0 445.0C301.6 445.1 305.1 445.2 309.7 445.6C314.2 446.0 317.8 446.9 322.3 447.0C326.9 447.1 330.4 446.4 335.0 446.0C339.6 445.6 343.1 445.7 347.7 445.0C352.2 444.3 355.8 442.2 360.3 442.0C364.9 441.8 368.4 443.3 373.0 444.0C377.6 444.7 381.1 445.7 385.7 446.0C390.2 446.3 393.8 445.4 398.3 445.4C402.9 445.4 406.4 446.1 411.0 446.0C415.6 445.9 419.1 445.1 423.7 445.0C428.2 444.9 431.8 445.7 436.3 445.6C440.9 445.5 444.4 444.3 449.0 444.4C453.6 444.5 457.1 445.8 461.7 446.0C466.2 446.2 469.8 445.6 474.3 445.6C478.9 445.6 482.4 446.4 487.0 446.0C491.6 445.6 497.4 444.0 499.7 443.6" fill="none" stroke="#fbb130" stroke-width="1"/>
<path d="M132.3 443.8L134.4 447.6L130.2 447.6Z" fill="#fbb130"/>
<path d="M145.0 443.4L147.1 447.2L142.9 447.2Z" fill="#fbb130"/>
<path d="M157.7 443.0L159.8 446.8L155.6 446.8Z" fill="#fbb130"/>
<path d="M170.3 444.2L172.4 448.0L168.2 448.0Z" fill="#fbb130"/>
<path d="M183.0 443.0L185.1 446.8L180.9 446.8Z" fill="#fbb130"/>
<path d="M195.7 442.6L197.8 446.4L193.6 446.4Z" fill="#fbb130"/>
<path d="M208.3 442.2L210.4 446.0L206.2 446.0Z" fill="#fbb130"/>
<path d="M221.0 443.8L223.1 447.6L218.9 447.6Z" fill="#fbb130"/>
<path d="M233.7 443.4L235.8 447.2L231.6 447.2Z" fill="#fbb130"/>
<path d="M246.3 444.8L248.4 448.6L244.2 448.6Z" fill="#fbb130"/>
<path d="M259.0 444.4L261.1 448.2L256.9 448.2Z" fill="#fbb130"/>
<path d="M271.7 443.4L273.8 447.2L269.6 447.2Z" fill="#fbb130"/>
<path d="M284.3 443.0L286.4 446.8L282.2 446.8Z" fill="#fbb130"/>
<path d="M297.0 442.8L299.1 446.6L294.9 446.6Z" fill="#fbb130"/>
<path d="M309.7 443.4L311.8 447.2L307.6 447.2Z" fill="#fbb130"/>
<path d="M322.3 444.8L324.4 448.6L320.2 448.6Z" fill="#fbb130"/>
<path d="M335.0 443.8L337.1 447.6L332.9 447.6Z" fill="#fbb130"/>
<path d="M347.7 442.8L349.8 446.6L345.6 446.6Z" fill="#fbb130"/>
<path d="M360.3 439.8L362.4 443.6L358.2 443.6Z" fill="#fbb130"/>
<path d="M373.0 441.8L375.1 445.6L370.9 445.6Z" fill="#fbb130"/>
<path d="M385.7 443.8L387.8 447.6L383.6 447.6Z" fill="#fbb130"/>
<path d="M398.3 443.2L400.4 447.0L396.2 447.0Z" fill="#fbb130"/>
<path d="M411.0 443.8L413.1 447.6L408.9 447.6Z" fill="#fbb130"/>
<path d="M423.7 442.8L425.8 446.6L421.6 446.6Z" fill="#fbb130"/>
<path d="M436.3 443.4L438.4 447.2L434.2 447.2Z" fill="#fbb130"/>
<path d="M449.0 442.2L451.1 446.0L446.9 446.0Z" fill="#fbb130"/>
<path d="M461.7 443.8L463.8 447.6L459.6 447.6Z" fill="#fbb130"/>
<path d="M474.3 443.4L476.4 447.2L472.2 447.2Z" fill="#fbb130"/>
<path d="M487.0 443.8L489.1 447.6L484.9 447.6Z" fill="#fbb130"/>
<path d="M499.7 441.4L501.8 445.2L497.6 445.2Z" fill="#fbb130"/>
<path d="M132.3 460.0C134.6 460.1 140.4 460.6 145.0 460.6C149.6 460.6 153.1 459.9 157.7 460.0C162.2 460.1 165.8 460.9 170.3 461.0C174.9 461.1 178.4 460.8 183.0 460.6C187.6 460.4 191.1 460.2 195.7 460.0C200.2 459.8 203.8 459.4 208.3 459.6C212.9 459.8 216.4 460.9 221.0 461.0C225.6 461.1 229.1 459.7 233.7 460.0C238.2 460.3 241.8 462.3 246.3 462.4C250.9 462.5 254.4 461.0 259.0 460.6C263.6 460.2 267.1 459.9 271.7 460.0C276.2 460.1 279.8 460.9 284.3 461.0C288.9 461.1 292.4 460.5 297.0 460.4C301.6 460.3 305.1 460.2 309.7 460.4C314.2 460.6 317.8 461.7 322.3 461.6C326.9 461.5 330.4 460.3 335.0 460.0C339.6 459.7 343.1 460.3 347.7 460.0C352.2 459.7 355.8 458.8 360.3 458.6C364.9 458.4 368.4 458.6 373.0 459.0C377.6 459.4 381.1 460.8 385.7 461.0C390.2 461.2 393.8 460.1 398.3 460.0C402.9 459.9 406.4 460.5 411.0 460.6C415.6 460.7 419.1 460.4 423.7 460.4C428.2 460.4 431.8 460.7 436.3 460.4C440.9 460.1 444.4 459.0 449.0 459.0C453.6 459.0 457.1 460.3 461.7 460.6C466.2 460.9 469.8 460.6 474.3 460.6C478.9 460.6 482.4 461.0 487.0 460.6C491.6 460.2 497.4 458.8 499.7 458.4" fill="none" stroke="#38b58d" stroke-width="1"/>
<path d="M132.3 462.2L134.4 458.4L130.2 458.4Z" fill="#38b58d"/>
<path d="M145.0 462.8L147.1 459.0L142.9 459.0Z" fill="#38b58d"/>
<path d="M157.7 462.2L159.8 458.4L155.6 458.4Z" fill="#38b58d"/>
<path d="M170.3 463.2L172.4 459.4L168.2 459.4Z" fill="#38b58d"/>
<path d="M183.0 462.8L185.1 459.0L180.9 459.0Z" fill="#38b58d"/>
<path d="M195.7 462.2L197.8 458.4L193.6 458.4Z" fill="#38b58d"/>
<path d="M208.3 461.8L210.4 458.0L206.2 458.0Z" fill="#38b58d"/>
<path d="M221.0 463.2L223.1 459.4L218.9 459.4Z" fill="#38b58d"/>
<path d="M233.7 462.2L235.8 458.4L231.6 458.4Z" fill="#38b58d"/>
<path d="M246.3 464.6L248.4 460.8L244.2 460.8Z" fill="#38b58d"/>
<path d="M259.0 462.8L261.1 459.0L256.9 459.0Z" fill="#38b58d"/>
<path d="M271.7 462.2L273.8 458.4L269.6 458.4Z" fill="#38b58d"/>
<path d="M284.3 463.2L286.4 459.4L282.2 459.4Z" fill="#38b58d"/>
<path d="M297.0 462.6L299.1 458.8L294.9 458.8Z" fill="#38b58d"/>
<path d="M309.7 462.6L311.8 458.8L307.6 458.8Z" fill="#38b58d"/>
<path d="M322.3 463.8L324.4 460.0L320.2 460.0Z" fill="#38b58d"/>
<path d="M335.0 462.2L337.1 458.4L332.9 458.4Z" fill="#38b58d"/>
<path d="M347.7 462.2L349.8 458.4L345.6 458.4Z" fill="#38b58d"/>
<path d="M360.3 460.8L362.4 457.0L358.2 457.0Z" fill="#38b58d"/>
<path d="M373.0 461.2L375.1 457.4L370.9 457.4Z" fill="#38b58d"/>
<path d="M385.7 463.2L387.8 459.4L383.6 459.4Z" fill="#38b58d"/>
<path d="M398.3 462.2L400.4 458.4L396.2 458.4Z" fill="#38b58d"/>
<path d="M411.0 462.8L413.1 459.0L408.9 459.0Z" fill="#38b58d"/>
<path d="M423.7 462.6L425.8 458.8L421.6 458.8Z" fill="#38b58d"/>
<path d="M436.3 462.6L438.4 458.8L434.2 458.8Z" fill="#38b58d"/>
<path d="M449.0 461.2L451.1 457.4L446.9 457.4Z" fill="#38b58d"/>
<path d="M461.7 462.8L463.8 459.0L459.6 459.0Z" fill="#38b58d"/>
<path d="M474.3 462.8L476.4 459.0L472.2 459.0Z" fill="#38b58d"/>
<path d="M487.0 462.8L489.1 459.0L484.9 459.0Z" fill="#38b58d"/>
<path d="M499.7 460.6L501.8 456.8L497.6 456.8Z" fill="#38b58d"/>
<text transform="translate(133.5 496.2) rotate(-45)" font-size="6.85" fill="#7d7d7d" text-anchor="end">2015-01-20 00:00:00</text>
<text transform="translate(146.2 496.2) rotate(-45)" font-size="6.85" fill="#7d7d7d" text-anchor="end">2015-01-02 00:00:00</text>
<text transform="translate(158.9 496.2) rotate(-45)" font-size="6.85" fill="#7d7d7d" text-anchor="end">2015-01-04 00:00:00</text>
<text transform="translate(171.5 496.2) rotate(-45)" font-size="6.85" fill="#7d7d7d" text-anchor="end">2015-01-21 00:00:00</text>
<text transform="translate(184.2 496.2) rotate(-45)" font-size="6.85" fill="#7d7d7d" text-anchor="end">2015-01-11 00:00:00</text>
<text transform="translate(196.9 496.2) rotate(-45)" font-size="6.85" fill="#7d7d7d" text-anchor="end">2015-01-26 00:00:00</text>
<text transform="translate(209.5 496.2) rotate(-45)" font-size="6.85" fill="#7d7d7d" text-anchor="end">2015-01-23 00:00:00</text>
<text transform="translate(222.2 496.2) rotate(-45)" font-size="6.85" fill="#7d7d7d" text-anchor="end">2015-01-24 00:00:00</text>
<text transform="translate(234.9 496.2) rotate(-45)" font-size="6.85" fill="#7d7d7d" text-anchor="end">2015-01-27 00:00:00</text>
<text transform="translate(247.5 496.2) rotate(-45)" font-size="6.85" fill="#7d7d7d" text-anchor="end">2015-01-10 00:00:00</text>
<text transform="translate(260.2 496.2) rotate(-45)" font-size="6.85" fill="#7d7d7d" text-anchor="end">2015-01-12 00:00:00</text>
<text transform="translate(272.9 496.2) rotate(-45)" font-size="6.85" fill="#7d7d7d" text-anchor="end">2015-01-06 00:00:00</text>
<text transform="translate(285.5 496.2) rotate(-45)" font-size="6.85" fill="#7d7d7d" text-anchor="end">2015-01-09 00:00:00</text>
<text transform="translate(298.2 496.2) rotate(-45)" font-size="6.85" fill="#7d7d7d" text-anchor="end">2015-01-25 00:00:00</text>
<text transform="translate(310.9 496.2) rotate(-45)" font-size="6.85" fill="#7d7d7d" text-anchor="end">2015-01-28 00:00:00</text>
<text transform="translate(323.5 496.2) rotate(-45)" font-size="6.85" fill="#7d7d7d" text-anchor="end">2015-01-29 00:00:00</text>
<text transform="translate(336.2 496.2) rotate(-45)" font-size="6.85" fill="#7d7d7d" text-anchor="end">2015-01-15 00:00:00</text>
<text transform="translate(348.9 496.2) rotate(-45)" font-size="6.85" fill="#7d7d7d" text-anchor="end">2015-01-16 00:00:00</text>
<text transform="translate(361.5 496.2) rotate(-45)" font-size="6.85" fill="#7d7d7d" text-anchor="end">2015-01-03 00:00:00</text>
<text transform="translate(374.2 496.2) rotate(-45)" font-size="6.85" fill="#7d7d7d" text-anchor="end">2015-01-13 00:00:00</text>
<text transform="translate(386.9 496.2) rotate(-45)" font-size="6.85" fill="#7d7d7d" text-anchor="end">2015-01-19 00:00:00</text>
<text transform="translate(399.5 496.2) rotate(-45)" font-size="6.85" fill="#7d7d7d" text-anchor="end">2015-01-30 00:00:00</text>
<text transform="translate(412.2 496.2) rotate(-45)" font-size="6.85" fill="#7d7d7d" text-anchor="end">2015-01-22 00:00:00</text>
<text transform="translate(424.9 496.2) rotate(-45)" font-size="6.85" fill="#7d7d7d" text-anchor="end">2015-01-05 00:00:00</text>
<text transform="translate(437.5 496.2) rotate(-45)" font-size="6.85" fill="#7d7d7d" text-anchor="end">2015-01-18 00:00:00</text>
<text transform="translate(450.2 496.2) rotate(-45)" font-size="6.85" fill="#7d7d7d" text-anchor="end">2015-01-08 00:00:00</text>
<text transform="translate(462.9 496.2) rotate(-45)" font-size="6.85" fill="#7d7d7d" text-anchor="end">2015-01-07 00:00:00</text>
<text transform="translate(475.5 496.2) rotate(-45)" font-size="6.85" fill="#7d7d7d" text-anchor="end">2015-01-17 00:00:00</text>
<text transform="translate(488.2 496.2) rotate(-45)" font-size="6.85" fill="#7d7d7d" text-anchor="end">2015-01-01 00:00:00</text>
<text transform="translate(500.9 496.2) rotate(-45)" font-size="6.85" fill="#7d7d7d" text-anchor="end">2015-01-14 00:00:00</text>
<text x="315.5" y="556" font-size="9.2" fill="#8a8a8a" text-anchor="middle">date</text>
<text transform="translate(94.3 438) rotate(-90)" font-size="9" fill="#858585" text-anchor="middle">Sum price</text>
<rect x="154.4" y="561" width="10" height="8" fill="#27b6d2"/>
<text x="168" y="568.3" font-size="8" fill="#3c3c3c" textLength="20.4" lengthAdjust="spacingAndGlyphs">shoes</text>
<rect x="192" y="561" width="10" height="8" fill="#4f5cb3"/>
<text x="205" y="568.3" font-size="8" fill="#3c3c3c" textLength="38.4" lengthAdjust="spacingAndGlyphs">electronics</text>
<rect x="247" y="561" width="10" height="8" fill="#ee4159"/>
<text x="260" y="568.3" font-size="8" fill="#3c3c3c" textLength="62.6" lengthAdjust="spacingAndGlyphs">womens_clothing</text>
<rect x="326" y="561" width="10" height="8" fill="#fbb130"/>
<text x="339.3" y="568.3" font-size="8" fill="#3c3c3c" textLength="52.2" lengthAdjust="spacingAndGlyphs">mens_clothing</text>
<rect x="395.6" y="561" width="10" height="8" fill="#38b58d"/>
<text x="408" y="568.3" font-size="8" fill="#3c3c3c" textLength="25.7" lengthAdjust="spacingAndGlyphs">kitchen</text>
</svg>
<!--AREAEND-->
</div>
<div class="card" id="c6" style="left:536px;top:351px;width:470px;height:232px">
  <div class="ctitle" style="left:9px;font-size:8.35px;top:6.2px">Revenue By State</div>
<!--HEATSTART-->
<svg class="abs" style="left:0;top:0;overflow:visible" width="470" height="232" viewBox="536 351 470 232" font-family="Liberation Sans">
<defs><clipPath id="hc"><rect x="537" y="351" width="469" height="198"/></clipPath><linearGradient id="hg" x1="0" y1="1" x2="0" y2="0"><stop offset="0" stop-color="#2db3a0"/><stop offset=".17" stop-color="#5cb88e"/><stop offset=".33" stop-color="#a0c077"/><stop offset=".47" stop-color="#f6c75f"/><stop offset=".66" stop-color="#fc8a38"/><stop offset=".85" stop-color="#f63a1c"/><stop offset="1" stop-color="#ee0f0f"/></linearGradient></defs>
<rect x="664.10" y="389.00" width="21.26" height="25.32" fill="#2cb1a0"/>
<rect x="684.76" y="389.00" width="21.26" height="25.32" fill="#8fbb7b"/>
<rect x="705.43" y="389.00" width="21.26" height="25.32" fill="#33b29d"/>
<rect x="726.09" y="389.00" width="21.26" height="25.32" fill="#2eb1a0"/>
<rect x="746.75" y="389.00" width="21.26" height="25.32" fill="#48b594"/>
<rect x="767.42" y="389.00" width="21.26" height="25.32" fill="#52b692"/>
<rect x="788.08" y="389.00" width="21.26" height="25.32" fill="#2db09f"/>
<rect x="808.75" y="389.00" width="21.26" height="25.32" fill="#3db498"/>
<rect x="829.41" y="389.00" width="21.26" height="25.32" fill="#63b98c"/>
<rect x="850.07" y="389.00" width="21.26" height="25.32" fill="#35b29c"/>
<rect x="870.74" y="389.00" width="21.26" height="25.32" fill="#2db1a0"/>
<text x="655" y="403.9" font-size="6.9" fill="#868686" text-anchor="end">shoes</text>
<rect x="664.10" y="413.72" width="21.26" height="25.32" fill="#30b29e"/>
<rect x="684.76" y="413.72" width="21.26" height="25.32" fill="#c9c36b"/>
<rect x="705.43" y="413.72" width="21.26" height="25.32" fill="#3ab39a"/>
<rect x="726.09" y="413.72" width="21.26" height="25.32" fill="#3ab39a"/>
<rect x="746.75" y="413.72" width="21.26" height="25.32" fill="#7dbb82"/>
<rect x="767.42" y="413.72" width="21.26" height="25.32" fill="#6cb988"/>
<rect x="788.08" y="413.72" width="21.26" height="25.32" fill="#55b791"/>
<rect x="808.75" y="413.72" width="21.26" height="25.32" fill="#52b692"/>
<rect x="829.41" y="413.72" width="21.26" height="25.32" fill="#86bc7f"/>
<rect x="850.07" y="413.72" width="21.26" height="25.32" fill="#3eb499"/>
<rect x="870.74" y="413.72" width="21.26" height="25.32" fill="#45b596"/>
<text x="655" y="428.6" font-size="6.9" fill="#868686" text-anchor="end">electronics</text>
<rect x="664.10" y="438.44" width="21.26" height="25.32" fill="#30b29e"/>
<rect x="684.76" y="438.44" width="21.26" height="25.32" fill="#b3c172"/>
<rect x="705.43" y="438.44" width="21.26" height="25.32" fill="#38b39b"/>
<rect x="726.09" y="438.44" width="21.26" height="25.32" fill="#3ab39a"/>
<rect x="746.75" y="438.44" width="21.26" height="25.32" fill="#8abc7e"/>
<rect x="767.42" y="438.44" width="21.26" height="25.32" fill="#58b790"/>
<rect x="788.08" y="438.44" width="21.26" height="25.32" fill="#44b496"/>
<rect x="808.75" y="438.44" width="21.26" height="25.32" fill="#48b594"/>
<rect x="829.41" y="438.44" width="21.26" height="25.32" fill="#78ba84"/>
<rect x="850.07" y="438.44" width="21.26" height="25.32" fill="#3cb39a"/>
<rect x="870.74" y="438.44" width="21.26" height="25.32" fill="#3eb499"/>
<text x="655" y="453.3" font-size="6.9" fill="#868686" text-anchor="end">mens_clothing</text>
<rect x="664.10" y="463.16" width="21.26" height="25.32" fill="#30b29e"/>
<rect x="684.76" y="463.16" width="21.26" height="25.32" fill="#fb4022"/>
<rect x="705.43" y="463.16" width="21.26" height="25.32" fill="#5cb78e"/>
<rect x="726.09" y="463.16" width="21.26" height="25.32" fill="#47b595"/>
<rect x="746.75" y="463.16" width="21.26" height="25.32" fill="#c6c36c"/>
<rect x="767.42" y="463.16" width="21.26" height="25.32" fill="#c2c26e"/>
<rect x="788.08" y="463.16" width="21.26" height="25.32" fill="#4bb594"/>
<rect x="808.75" y="463.16" width="21.26" height="25.32" fill="#9abf79"/>
<rect x="829.41" y="463.16" width="21.26" height="25.32" fill="#f3c862"/>
<rect x="850.07" y="463.16" width="21.26" height="25.32" fill="#6fb987"/>
<rect x="870.74" y="463.16" width="21.26" height="25.32" fill="#3fb498"/>
<text x="655" y="478.0" font-size="6.9" fill="#868686" text-anchor="end">kitchen</text>
<rect x="664.10" y="487.88" width="21.26" height="25.32" fill="#30b29e"/>
<rect x="684.76" y="487.88" width="21.26" height="25.32" fill="#a3bf76"/>
<rect x="705.43" y="487.88" width="21.26" height="25.32" fill="#30b29e"/>
<rect x="726.09" y="487.88" width="21.26" height="25.32" fill="#3eb499"/>
<rect x="746.75" y="487.88" width="21.26" height="25.32" fill="#93bd7b"/>
<rect x="767.42" y="487.88" width="21.26" height="25.32" fill="#55b791"/>
<rect x="788.08" y="487.88" width="21.26" height="25.32" fill="#52b692"/>
<rect x="808.75" y="487.88" width="21.26" height="25.32" fill="#42b497"/>
<rect x="829.41" y="487.88" width="21.26" height="25.32" fill="#78ba84"/>
<rect x="850.07" y="487.88" width="21.26" height="25.32" fill="#32b29d"/>
<rect x="870.74" y="487.88" width="21.26" height="25.32" fill="#3cb39a"/>
<text x="655" y="502.7" font-size="6.9" fill="#868686" text-anchor="end">womens_clothing</text>
<path d="M664.1 512.6V519.5" stroke="#dde0e3" stroke-width=".8"/>
<path d="M684.8 512.6V519.5" stroke="#dde0e3" stroke-width=".8"/>
<path d="M705.4 512.6V519.5" stroke="#dde0e3" stroke-width=".8"/>
<path d="M726.1 512.6V519.5" stroke="#dde0e3" stroke-width=".8"/>
<path d="M746.8 512.6V519.5" stroke="#dde0e3" stroke-width=".8"/>
<path d="M767.4 512.6V519.5" stroke="#dde0e3" stroke-width=".8"/>
<path d="M788.1 512.6V519.5" stroke="#dde0e3" stroke-width=".8"/>
<path d="M808.7 512.6V519.5" stroke="#dde0e3" stroke-width=".8"/>
<path d="M829.4 512.6V519.5" stroke="#dde0e3" stroke-width=".8"/>
<path d="M850.1 512.6V519.5" stroke="#dde0e3" stroke-width=".8"/>
<path d="M870.7 512.6V519.5" stroke="#dde0e3" stroke-width=".8"/>
<path d="M891.4 512.6V519.5" stroke="#dde0e3" stroke-width=".8"/>
<g clip-path="url(#hc)">
<text transform="translate(676.6 522.8) rotate(-45)" font-size="7" fill="#7d7d7d" text-anchor="end">California</text>
<text transform="translate(697.3 522.8) rotate(-45)" font-size="7" fill="#7d7d7d" text-anchor="end">Georgia</text>
<text transform="translate(718.0 522.8) rotate(-45)" font-size="7" fill="#7d7d7d" text-anchor="end">Kentucky</text>
<text transform="translate(738.6 522.8) rotate(-45)" font-size="7" fill="#7d7d7d" text-anchor="end">Michigan</text>
<text transform="translate(759.3 522.8) rotate(-45)" font-size="7" fill="#7d7d7d" text-anchor="end">New York</text>
<text transform="translate(780.0 522.8) rotate(-45)" font-size="7" fill="#7d7d7d" text-anchor="end">North Carolina</text>
<text transform="translate(800.6 522.8) rotate(-45)" font-size="7" fill="#7d7d7d" text-anchor="end">Oregon</text>
<text transform="translate(821.3 522.8) rotate(-45)" font-size="7" fill="#7d7d7d" text-anchor="end">Tennessee</text>
<text transform="translate(841.9 522.8) rotate(-45)" font-size="7" fill="#7d7d7d" text-anchor="end">Texas</text>
<text transform="translate(862.6 522.8) rotate(-45)" font-size="7" fill="#7d7d7d" text-anchor="end">Virginia</text>
<text transform="translate(883.3 522.8) rotate(-45)" font-size="7" fill="#7d7d7d" text-anchor="end">Washington</text>
</g>
<text transform="translate(596 450.7) rotate(-90)" font-size="9" fill="#777" text-anchor="middle">department</text>
<text transform="translate(896.6 450.5) rotate(90)" font-size="9" fill="#777" text-anchor="middle">profit</text>
<path d="M891.8 422V424M891.8 511V513" stroke="#bbb" stroke-width=".7"/>
<rect x="921.3" y="415.5" width="7.8" height="125.4" fill="url(#hg)"/>
<g clip-path="url(#cbc)">
</g>
<defs><clipPath id="cbc2"><rect x="930" y="415.3" width="60" height="140"/></clipPath></defs>
<g clip-path="url(#cbc2)" font-size="7.2" fill="#7d7d7d">
<text x="938.2" y="418.20000000000005">300k</text>
<text x="938.2" y="460.20000000000005">200k</text>
<text x="938.2" y="502.20000000000005">100k</text>
<text x="938.2" y="543.8000000000001">0</text>
</g>
<g><rect x="905" y="365.4" width="9" height="7.6" fill="#b9b9b9"/><rect x="905" y="365.4" width="9" height="1.6" fill="#666"/><path d="M908 367V373M911 367V373M905 369.2H914M905 371.2H914" stroke="#6d6d6d" stroke-width=".6"/><rect x="905" y="365.4" width="9" height="7.6" fill="none" stroke="#666" stroke-width=".7"/></g>
<g fill="none" stroke="#555" stroke-width=".9"><path d="M919.4 365.4V372.7H927.7"/><path d="M920.8 371L923 368.2L924.4 369.6L927 366.4"/></g>
<path d="M933.3 365.4H940.7V367L938 369.4V373.2H936V369.4L933.3 367Z" fill="#1d1d1d"/>
<g transform="translate(950.5 369.3)"><circle r="2.3" fill="none" stroke="#1d1d1d" stroke-width="2.4"/><g stroke="#1d1d1d" stroke-width="1.9"><path d="M0 -3V-4.7M0 3V4.7M-3 0H-4.7M3 0H4.7M2.1 2.1L3.3 3.3M-2.1 2.1L-3.3 3.3M2.1 -2.1L3.3 -3.3M-2.1 -2.1L-3.3 -3.3"/></g></g>
<g fill="none" stroke="#1d1d1d" stroke-width="1"><path d="M962.4 369.6V372.6H971.2V369.6"/><path d="M966.8 365.2V370.2"/></g><path d="M964.6 368.4H969L966.8 371Z" fill="#1d1d1d"/>
<path d="M977.8 371.6L983.4 366" stroke="#1d1d1d" stroke-width="1.3"/><path d="M981.4 365.2H985.2V369ZM976.2 372.8V369L980 372.8Z" fill="#1d1d1d"/>
<g transform="translate(1000.5 358.3)"><path d="M0 -3.6V3.6M-3.6 0H3.6" stroke="#333" stroke-width=".9"/><path d="M0 -4.4L1.5 -2.6H-1.5ZM0 4.4L1.5 2.6H-1.5ZM-4.4 0L-2.6 -1.5V1.5ZM4.4 0L2.6 -1.5V1.5Z" fill="#333"/></g>
<circle cx="537.3" cy="352.8" r="5.6" fill="#fff"/><path d="M535.3 350.8L539.3 354.8M539.3 350.8L535.3 354.8" stroke="#555" stroke-width="1.1"/>
</svg>
<!--HEATEND-->
</div>

<!--RIGHTSTART-->
<div class="abs" style="left:1012px;top:42px;width:188px;height:586px;background:#eff2f6"></div>
<div class="abs" style="left:1011px;top:42px;width:8px;height:586px;background:linear-gradient(90deg,rgba(225,230,236,0),rgba(214,221,229,.75) 75%,rgba(238,241,245,0))"></div>
<div class="abs" style="left:1019px;top:42px;width:9px;height:586px;background:linear-gradient(90deg,#f6f8fa,#eff2f6)"></div>
<div class="abs" style="left:1022.5px;top:306.0px;width:2.4px;height:2.4px;border-radius:50%;background:#6b86ad"></div>
<div class="abs" style="left:1022.5px;top:310.7px;width:2.4px;height:2.4px;border-radius:50%;background:#6b86ad"></div>
<div class="abs" style="left:1022.5px;top:315.3px;width:2.4px;height:2.4px;border-radius:50%;background:#6b86ad"></div>
<svg class="abs" style="left:1027px;top:51.5px" width="17" height="19" viewBox="0 0 17 19"><g fill="none" stroke="#4a74c9" stroke-width="1"><path d="M6.2 12.2C6.2 10.9 4.4 10 4.4 7.7A4.1 4.1 0 0 1 12.6 7.7C12.6 10 10.8 10.9 10.8 12.2Z"/><path d="M6.8 7.8L8.1 9.1L10.3 6.6"/></g><path d="M6.4 13H10.6V14.6L9.6 16.2H7.4L6.4 14.6Z" fill="#2f5fc4"/><g stroke="#f0b8a8" stroke-width=".9"><path d="M8.5 .8V2.4M2.6 2.8L3.7 3.9M14.4 2.8L13.3 3.9M.6 7.8H2.2M16.4 7.8H14.8"/></g></svg>
<div class="t" style="left:1049.6px;top:52.6px;font-size:14.6px;line-height:16.79px;color:#333b41;">Discoveries</div>
<svg class="abs" style="left:1167.4px;top:47.9px" width="24" height="24" viewBox="-12 -12 24 24"><circle r="11.2" fill="#ef3b4e"/><path d="M-2.8 0H2.8M0 -2.8V2.8" stroke="#fff" stroke-width="1.5"/></svg>
<div class="abs" style="left:1028px;top:78.4px;width:163px;height:550px;background:#fff;box-shadow:0 0 3px rgba(120,135,150,.12)"></div>
<div class="abs" style="left:1028px;top:78.4px;width:163px;height:29.5px;background:#fff"></div>
<div class="abs" style="left:1028px;top:107.6px;width:163px;height:1px;background:#e4e8eb"></div>
<div class="abs" style="left:1032.3px;top:106.4px;width:54px;height:2px;background:#25a6bd"></div>
<div class="t" style="left:1037.0px;top:88.0px;font-size:7.9px;line-height:9.08px;color:#4dbfd3;">SEGMENTS</div>
<div class="t" style="left:1090.4px;top:87.8px;font-size:8.2px;line-height:9.43px;color:#545d63;">ANOMALIES</div>
<div class="abs" style="left:1038.3px;top:121.9px;width:66.5px;height:19px;background:#27b5d0;border-radius:2px 0 0 2px"></div>
<div class="abs" style="left:1104.8px;top:121.9px;width:75.4px;height:19px;background:#edf0f4;border-radius:0 2px 2px 0"></div>
<div class="t" style="left:1050.0px;top:128.4px;font-size:6.5px;line-height:7.47px;color:#fff;font-weight:bold">STORY NAME</div>
<div class="t" style="left:1118.0px;top:128.4px;font-size:6.4px;line-height:7.36px;color:#555f66;font-weight:bold">STORY TARGET</div>
<div class="t" style="left:1041.2px;top:158.9px;font-size:8.5px;line-height:9.77px;color:#3c454b;">Who is most likely to buy kit...</div>
<svg class="abs" style="left:1169.6px;top:161.3px" width="6" height="4" viewBox="0 0 6 4"><path d="M.4 .4H5.6L3 3.6Z" fill="#9aa3a9"/></svg>
<div class="abs" style="left:1039px;top:171px;width:139px;height:1px;background:#e8ebee"></div>
<div class="abs" style="left:1036px;top:175.5px;width:148px;height:453px;background:#f8f9fb"></div>
<div class="abs" style="left:1039.6px;top:187.4px;width:140.6px;height:168.4px;background:#fff;box-shadow:0 0 7px 1px rgba(130,145,160,.17)"></div>
<div class="t" style="left:1044.5px;top:194.9px;font-size:9.9px;line-height:11.38px;color:#2c3237;-webkit-text-stroke:.12px #2c3237">department kitchen</div>
<div class="t" style="left:1044.5px;top:213.3px;font-size:8.5px;line-height:9.77px;color:#a3aab0;">Behaviour</div>
<div class="t" style="left:1115.9px;top:213.3px;font-size:8.6px;line-height:9.89px;color:#a3aab0;">Distribution</div>
<div class="t" style="left:1043.6px;top:232.9px;font-size:25.6px;line-height:29.44px;color:#37b487;letter-spacing:-1.3px">73</div>
<div class="t" style="left:1074.2px;top:241.4px;font-size:16.2px;line-height:18.63px;color:#37b487;transform:scaleX(.77);transform-origin:0 0">%</div>
<div class="t" style="left:1044.7px;top:267.5px;font-size:8.3px;line-height:9.54px;color:#37b487;font-weight:bold">more likely</div>
<div class="t" style="left:1044.7px;top:276.4px;font-size:8.3px;line-height:9.54px;color:#37b487;font-weight:bold">than average</div>
<svg class="abs" style="left:1116px;top:222.9px" width="44" height="44" viewBox="-22 -22 44 44"><circle r="17.9" fill="#f5f7f9" stroke="#c9ced2" stroke-width="1.8"/><path d="M0 -17.9A17.9 17.9 0 0 1 10.52 14.48" fill="none" stroke="#2fb3d0" stroke-width="2.6"/><text x="0" y="3" font-size="8.4" fill="#3aa9c4" text-anchor="middle" font-family="Liberation Sans">40%</text></svg>
<div class="t" style="left:1101.8px;top:267.9px;width:80px;text-align:center;font-size:8.4px;line-height:9.6px;color:#2fb3d0;font-weight:bold">meeting target</div>
<div class="t" style="left:1101.8px;top:276.6px;width:80px;text-align:center;font-size:8.4px;line-height:9.6px;color:#2fb3d0;font-weight:bold">criteria</div>
<div class="t" style="left:1044.7px;top:296.7px;font-size:8.6px;line-height:9.89px;color:#8f979d;">Segment Description</div>
<div class="abs" style="left:1048.8px;top:316.9px;width:2.2px;height:2.2px;border-radius:50%;background:#2c3237"></div>
<div class="t" style="left:1057.0px;top:314.2px;font-size:7.4px;line-height:8.51px;color:#2c3237;">region is 'south'</div>
<div class="abs" style="left:1048.8px;top:326.9px;width:2.2px;height:2.2px;border-radius:50%;background:#2c3237"></div>
<div class="t" style="left:1057.0px;top:324.3px;font-size:7.4px;line-height:8.51px;color:#2c3237;">age &lt;= 31</div>
<div class="abs" style="left:1048.8px;top:337.0px;width:2.2px;height:2.2px;border-radius:50%;background:#2c3237"></div>
<div class="t" style="left:1057.0px;top:334.3px;font-size:7.4px;line-height:8.51px;color:#2c3237;">gender is 'female'</div>
<div class="abs" style="left:1039.6px;top:366.7px;width:140.6px;height:168.4px;background:#fff;box-shadow:0 0 7px 1px rgba(130,145,160,.17)"></div>
<div class="t" style="left:1044.5px;top:374.2px;font-size:9.9px;line-height:11.38px;color:#2c3237;-webkit-text-stroke:.12px #2c3237">department kitchen</div>
<div class="t" style="left:1044.5px;top:392.6px;font-size:8.5px;line-height:9.77px;color:#a3aab0;">Behaviour</div>
<div class="t" style="left:1115.9px;top:392.6px;font-size:8.6px;line-height:9.89px;color:#a3aab0;">Distribution</div>
<div class="t" style="left:1043.6px;top:412.2px;font-size:25.6px;line-height:29.44px;color:#37b487;letter-spacing:-1.3px">55</div>
<div class="t" style="left:1074.2px;top:420.7px;font-size:16.2px;line-height:18.63px;color:#37b487;transform:scaleX(.77);transform-origin:0 0">%</div>
<div class="t" style="left:1044.7px;top:446.8px;font-size:8.3px;line-height:9.54px;color:#37b487;font-weight:bold">more likely</div>
<div class="t" style="left:1044.7px;top:455.7px;font-size:8.3px;line-height:9.54px;color:#37b487;font-weight:bold">than average</div>
<svg class="abs" style="left:1116px;top:402.2px" width="44" height="44" viewBox="-22 -22 44 44"><circle r="17.9" fill="#f5f7f9" stroke="#c9ced2" stroke-width="1.8"/><path d="M0 -17.9A17.9 17.9 0 0 1 13.79 11.41" fill="none" stroke="#2fb3d0" stroke-width="2.6"/><text x="0" y="3" font-size="8.4" fill="#3aa9c4" text-anchor="middle" font-family="Liberation Sans">36%</text></svg>
<div class="t" style="left:1101.8px;top:447.2px;width:80px;text-align:center;font-size:8.4px;line-height:9.6px;color:#2fb3d0;font-weight:bold">meeting target</div>
<div class="t" style="left:1101.8px;top:455.9px;width:80px;text-align:center;font-size:8.4px;line-height:9.6px;color:#2fb3d0;font-weight:bold">criteria</div>
<div class="t" style="left:1044.7px;top:476.0px;font-size:8.6px;line-height:9.89px;color:#8f979d;">Segment Description</div>
<div class="abs" style="left:1048.8px;top:496.2px;width:2.2px;height:2.2px;border-radius:50%;background:#2c3237"></div>
<div class="t" style="left:1057.0px;top:493.5px;font-size:7.4px;line-height:8.51px;color:#2c3237;">region is 'south'</div>
<div class="abs" style="left:1048.8px;top:506.3px;width:2.2px;height:2.2px;border-radius:50%;background:#2c3237"></div>
<div class="t" style="left:1057.0px;top:503.6px;font-size:7.4px;line-height:8.51px;color:#2c3237;">age between 31 and 33</div>
<div class="abs" style="left:1048.8px;top:516.3px;width:2.2px;height:2.2px;border-radius:50%;background:#2c3237"></div>
<div class="t" style="left:1057.0px;top:513.6px;font-size:7.4px;line-height:8.51px;color:#2c3237;">gender is 'female'</div>
<div class="abs" style="left:1039.6px;top:546.0px;width:140.6px;height:168.4px;background:#fff;box-shadow:0 0 7px 1px rgba(130,145,160,.17)"></div>
<div class="t" style="left:1044.5px;top:553.5px;font-size:9.9px;line-height:11.38px;color:#2c3237;-webkit-text-stroke:.12px #2c3237">department kitchen</div>
<div class="t" style="left:1044.5px;top:571.9px;font-size:8.5px;line-height:9.77px;color:#a3aab0;">Behaviour</div>
<div class="t" style="left:1115.9px;top:571.9px;font-size:8.6px;line-height:9.89px;color:#a3aab0;">Distribution</div>
<div class="t" style="left:1043.6px;top:591.5px;font-size:25.6px;line-height:29.44px;color:#37b487;letter-spacing:-1.3px">50</div>
<div class="t" style="left:1074.2px;top:600.0px;font-size:16.2px;line-height:18.63px;color:#37b487;transform:scaleX(.77);transform-origin:0 0">%</div>
<div class="t" style="left:1044.7px;top:626.1px;font-size:8.3px;line-height:9.54px;color:#37b487;font-weight:bold">more likely</div>
<div class="t" style="left:1044.7px;top:635.0px;font-size:8.3px;line-height:9.54px;color:#37b487;font-weight:bold">than average</div>
<svg class="abs" style="left:1116px;top:581.5px" width="44" height="44" viewBox="-22 -22 44 44"><circle r="17.9" fill="#f5f7f9" stroke="#c9ced2" stroke-width="1.8"/><path d="M0 -17.9A17.9 17.9 0 0 1 14.48 10.52" fill="none" stroke="#2fb3d0" stroke-width="2.6"/><text x="0" y="3" font-size="8.4" fill="#3aa9c4" text-anchor="middle" font-family="Liberation Sans">35%</text></svg>
<div class="t" style="left:1101.8px;top:626.5px;width:80px;text-align:center;font-size:8.4px;line-height:9.6px;color:#2fb3d0;font-weight:bold">meeting target</div>
<div class="t" style="left:1101.8px;top:635.2px;width:80px;text-align:center;font-size:8.4px;line-height:9.6px;color:#2fb3d0;font-weight:bold">criteria</div>
<div class="t" style="left:1044.7px;top:655.3px;font-size:8.6px;line-height:9.89px;color:#8f979d;">Segment Description</div>
<div class="abs" style="left:1048.8px;top:675.5px;width:2.2px;height:2.2px;border-radius:50%;background:#2c3237"></div>
<div class="t" style="left:1057.0px;top:672.8px;font-size:7.4px;line-height:8.51px;color:#2c3237;">region is 'south'</div>
<div class="abs" style="left:1048.8px;top:685.5px;width:2.2px;height:2.2px;border-radius:50%;background:#2c3237"></div>
<div class="t" style="left:1057.0px;top:682.9px;font-size:7.4px;line-height:8.51px;color:#2c3237;">age between 31 and 33</div>
<div class="abs" style="left:1048.8px;top:695.6px;width:2.2px;height:2.2px;border-radius:50%;background:#2c3237"></div>
<div class="t" style="left:1057.0px;top:692.9px;font-size:7.4px;line-height:8.51px;color:#2c3237;">gender is 'female'</div>
<!--RIGHTEND-->
</body>
</html>
